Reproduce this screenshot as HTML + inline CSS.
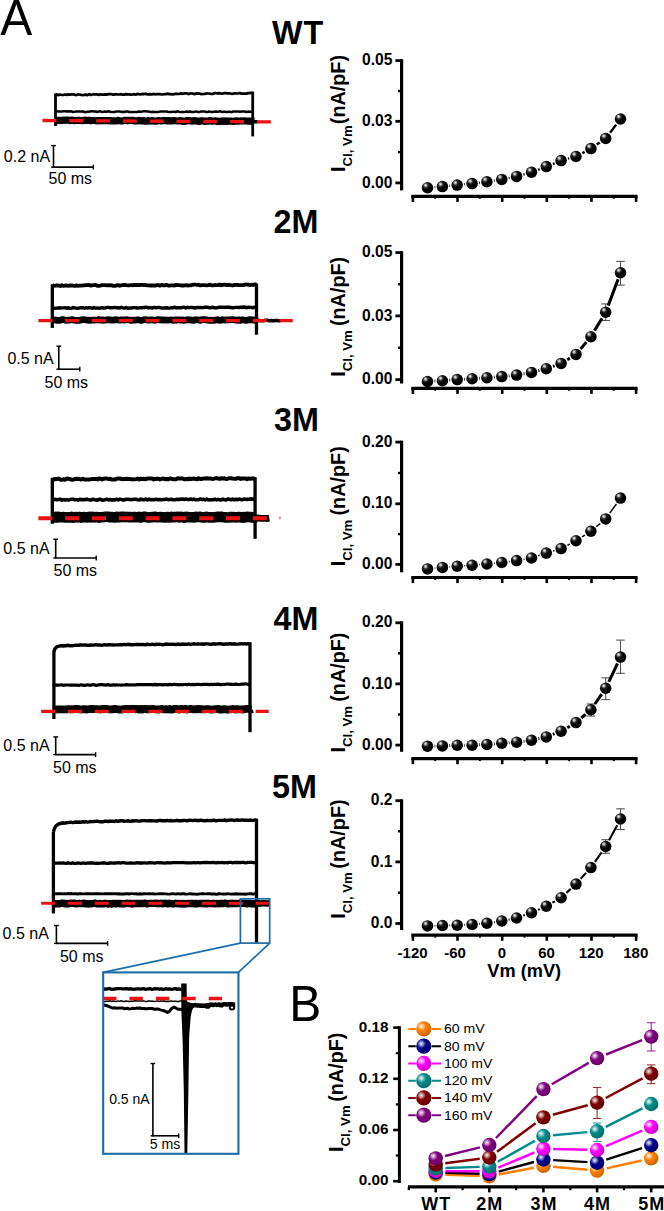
<!DOCTYPE html>
<html><head><meta charset="utf-8"><title>Figure</title>
<style>html,body{margin:0;padding:0;background:#fff}svg{display:block}text{font-family:'Liberation Sans', sans-serif;fill:#000;font-kerning:none}</style>
</head><body>
<svg width="664" height="1211" viewBox="0 0 664 1211">
<rect width="664" height="1211" fill="#fff"/>
<g id="traces">
<polyline points="55.5,94.8 57.1,94.6 58.7,95.1 60.3,94.5 61.9,95.0 63.5,94.8 65.1,94.5 66.7,94.9 68.3,94.4 69.9,94.8 71.5,94.4 73.1,94.4 74.7,94.7 76.3,95.1 77.9,94.4 79.5,94.5 81.2,94.9 82.8,95.2 84.4,94.8 86.0,94.6 87.6,95.2 89.2,94.2 90.8,95.0 92.4,94.5 94.0,94.3 95.6,94.3 97.2,94.4 98.8,94.9 100.4,94.3 102.0,94.7 103.6,94.7 105.2,94.4 106.8,94.6 108.4,94.1 110.0,94.1 111.6,94.2 113.2,94.7 114.8,94.4 116.4,94.3 118.0,94.5 119.6,94.4 121.2,94.2 122.8,94.7 124.4,94.6 126.0,94.1 127.6,94.4 129.2,94.4 130.9,94.7 132.5,94.5 134.1,94.1 135.7,94.7 137.3,93.9 138.9,94.2 140.5,94.5 142.1,93.9 143.7,94.2 145.3,93.7 146.9,94.3 148.5,94.4 150.1,94.2 151.7,94.5 153.3,93.9 154.9,94.3 156.5,94.2 158.1,94.1 159.7,94.0 161.3,94.4 162.9,94.5 164.5,94.0 166.1,94.2 167.7,93.5 169.3,94.2 170.9,94.1 172.5,94.4 174.1,94.2 175.7,93.7 177.3,93.8 179.0,94.0 180.6,93.4 182.2,93.8 183.8,93.5 185.4,93.4 187.0,93.4 188.6,94.1 190.2,93.4 191.8,93.5 193.4,93.6 195.0,94.1 196.6,93.3 198.2,93.6 199.8,93.7 201.4,94.1 203.0,94.0 204.6,94.0 206.2,93.4 207.8,93.5 209.4,93.5 211.0,94.0 212.6,94.0 214.2,93.2 215.8,93.2 217.4,93.3 219.0,93.2 220.6,93.5 222.2,93.6 223.8,93.2 225.4,93.0 227.0,93.4 228.7,93.3 230.3,93.5 231.9,93.8 233.5,93.6 235.1,93.4 236.7,93.5 238.3,93.5 239.9,92.9 241.5,93.7 243.1,93.6 244.7,93.6 246.3,93.6 247.9,93.1 249.5,93.1 251.1,92.8 252.7,93.3" fill="none" stroke="#000" stroke-width="2.70" stroke-linejoin="round" />
<polyline points="55.5,111.3 57.1,111.3 58.7,111.4 60.3,111.4 61.9,111.6 63.5,111.3 65.1,111.3 66.7,111.4 68.3,111.3 69.9,111.6 71.5,111.3 73.1,112.0 74.7,111.8 76.3,111.4 77.9,111.5 79.5,111.6 81.2,111.6 82.8,111.4 84.4,112.0 86.0,112.1 87.6,111.7 89.2,111.7 90.8,111.3 92.4,111.3 94.0,111.6 95.6,111.5 97.2,112.0 98.8,111.4 100.4,111.3 102.0,112.1 103.6,111.7 105.2,111.4 106.8,111.7 108.4,111.3 110.0,111.7 111.6,112.1 113.2,112.0 114.8,111.9 116.4,111.5 118.0,111.6 119.6,111.4 121.2,111.9 122.8,111.7 124.4,112.0 126.0,111.5 127.6,111.5 129.2,112.0 130.9,112.1 132.5,112.0 134.1,112.0 135.7,112.0 137.3,111.9 138.9,111.5 140.5,111.7 142.1,111.6 143.7,111.3 145.3,111.3 146.9,111.5 148.5,111.5 150.1,111.9 151.7,112.1 153.3,111.7 154.9,112.1 156.5,112.1 158.1,112.1 159.7,111.6 161.3,111.4 162.9,111.5 164.5,111.4 166.1,111.4 167.7,111.8 169.3,112.1 170.9,112.0 172.5,111.7 174.1,111.8 175.7,112.0 177.3,111.3 179.0,111.8 180.6,112.1 182.2,112.0 183.8,111.9 185.4,111.7 187.0,111.4 188.6,112.0 190.2,111.5 191.8,112.0 193.4,112.1 195.0,111.6 196.6,111.6 198.2,112.1 199.8,111.9 201.4,111.4 203.0,111.4 204.6,111.4 206.2,112.1 207.8,112.0 209.4,111.4 211.0,112.0 212.6,112.1 214.2,111.8 215.8,111.6 217.4,111.7 219.0,111.4 220.6,111.3 222.2,112.1 223.8,111.8 225.4,111.7 227.0,112.1 228.7,111.6 230.3,112.0 231.9,112.0 233.5,111.4 235.1,111.5 236.7,111.5 238.3,111.5 239.9,111.8 241.5,111.5 243.1,111.6 244.7,111.4 246.3,112.1 247.9,111.6 249.5,111.7 251.1,111.8 252.7,112.1" fill="none" stroke="#000" stroke-width="2.50" stroke-linejoin="round" />
<polyline points="55.5,120.2 57.1,120.6 58.7,120.3 60.3,120.3 61.9,120.4 63.5,120.0 65.1,120.3 66.7,120.1 68.3,120.0 69.9,120.6 71.5,120.1 73.1,120.4 74.7,120.6 76.3,120.5 77.9,120.3 79.5,120.4 81.1,120.5 82.7,120.7 84.3,120.1 85.9,120.5 87.5,120.3 89.2,120.3 90.8,120.7 92.4,120.5 94.0,120.5 95.6,120.7 97.2,120.8 98.8,120.5 100.4,120.6 102.0,120.5 103.6,120.6 105.2,120.7 106.8,120.5 108.4,120.6 110.0,120.6 111.6,120.9 113.2,120.7 114.8,120.9 116.4,121.0 118.0,120.4 119.6,120.7 121.2,121.0 122.8,120.9 124.4,120.4 126.0,120.4 127.6,120.6 129.2,120.3 130.8,120.5 132.4,120.3 134.0,120.8 135.6,120.9 137.2,121.0 138.8,120.4 140.4,120.9 142.0,120.9 143.6,120.5 145.2,121.1 146.8,121.1 148.4,120.5 150.0,121.1 151.6,120.7 153.2,120.8 154.8,121.2 156.5,121.1 158.1,120.5 159.7,120.8 161.3,120.8 162.9,120.7 164.5,120.6 166.1,120.7 167.7,121.0 169.3,120.5 170.9,120.9 172.5,120.8 174.1,120.5 175.7,120.8 177.3,121.0 178.9,120.9 180.5,120.6 182.1,121.3 183.7,121.2 185.3,121.3 186.9,120.6 188.5,120.8 190.1,120.6 191.7,121.2 193.3,120.8 194.9,120.7 196.5,120.9 198.1,121.3 199.7,121.3 201.3,120.8 202.9,120.8 204.5,121.4 206.1,121.1 207.7,121.2 209.3,120.7 210.9,120.7 212.5,121.2 214.1,121.0 215.7,120.8 217.3,121.5 218.9,121.2 220.5,121.4 222.2,120.8 223.8,121.4 225.4,120.8 227.0,121.5 228.6,121.1 230.2,121.1 231.8,121.2 233.4,121.5 235.0,121.0 236.6,120.9 238.2,121.2 239.8,121.0 241.4,120.9 243.0,121.0 244.6,120.9 246.2,121.0 247.8,121.1 249.4,121.1 251.0,121.5 252.6,121.1 254.2,121.3" fill="none" stroke="#000" stroke-width="7.20" stroke-linejoin="round" />
<polyline points="252.7,121.7 254.4,121.8 256.0,121.6 257.7,121.8" fill="none" stroke="#000" stroke-width="3.40" stroke-linejoin="round" />
<line x1="55.5" y1="93.4" x2="55.5" y2="126.0" stroke="#000" stroke-width="2.80" />
<line x1="252.7" y1="91.6" x2="252.7" y2="136.4" stroke="#000" stroke-width="2.80" />
<line x1="42.5" y1="120.5" x2="272.0" y2="121.9" stroke="#ea1212" stroke-width="3.30" stroke-dasharray="14 12.8"/>
<line x1="53.5" y1="145.6" x2="53.5" y2="167.7" stroke="#000" stroke-width="1.60" />
<line x1="53.5" y1="167.1" x2="93.3" y2="167.1" stroke="#000" stroke-width="1.60" />
<line x1="51.1" y1="145.6" x2="55.9" y2="145.6" stroke="#000" stroke-width="1.40" />
<line x1="51.1" y1="167.1" x2="53.5" y2="167.1" stroke="#000" stroke-width="1.40" />
<line x1="93.3" y1="164.7" x2="93.3" y2="169.5" stroke="#000" stroke-width="1.40" />
<text x="3.8" y="161.6" font-size="16.0" font-weight="normal" text-anchor="start" >0.2 nA</text>
<text x="48.5" y="183.5" font-size="16.0" font-weight="normal" text-anchor="start" >50 ms</text>
<polyline points="52.3,285.1 53.9,285.8 55.5,285.6 57.1,285.3 58.7,285.6 60.3,286.0 61.9,285.2 63.6,285.9 65.2,285.5 66.8,285.5 68.4,285.9 70.0,285.4 71.6,285.5 73.2,285.7 74.8,286.0 76.4,285.4 78.0,285.8 79.6,285.7 81.2,285.6 82.8,285.4 84.5,285.3 86.1,285.0 87.7,285.1 89.3,285.0 90.9,285.7 92.5,285.2 94.1,285.1 95.7,285.0 97.3,285.8 98.9,285.8 100.5,285.6 102.1,285.2 103.8,285.2 105.4,285.2 107.0,285.4 108.6,285.1 110.2,285.3 111.8,285.2 113.4,285.9 115.0,285.9 116.6,285.4 118.2,285.1 119.8,285.8 121.4,285.2 123.0,285.2 124.7,284.9 126.3,285.2 127.9,285.3 129.5,285.3 131.1,285.0 132.7,285.3 134.3,284.8 135.9,285.1 137.5,284.9 139.1,285.2 140.7,284.8 142.3,284.8 143.9,285.1 145.6,285.0 147.2,285.4 148.8,285.3 150.4,285.5 152.0,285.4 153.6,285.5 155.2,285.6 156.8,285.1 158.4,285.1 160.0,285.7 161.6,284.9 163.2,285.4 164.9,285.4 166.5,284.8 168.1,285.5 169.7,285.6 171.3,285.3 172.9,285.4 174.5,285.5 176.1,284.8 177.7,285.2 179.3,285.2 180.9,285.5 182.5,285.5 184.1,285.5 185.8,285.2 187.4,285.5 189.0,285.3 190.6,285.3 192.2,284.9 193.8,284.6 195.4,284.7 197.0,285.0 198.6,284.7 200.2,285.4 201.8,285.1 203.4,285.2 205.0,285.2 206.7,285.3 208.3,285.1 209.9,284.6 211.5,285.4 213.1,285.3 214.7,285.0 216.3,285.1 217.9,285.2 219.5,284.6 221.1,285.3 222.7,284.8 224.3,284.6 226.0,284.8 227.6,285.2 229.2,284.7 230.8,285.2 232.4,285.5 234.0,285.0 235.6,284.9 237.2,284.9 238.8,285.1 240.4,285.2 242.0,285.1 243.6,285.1 245.2,284.5 246.9,284.6 248.5,284.7 250.1,285.2 251.7,284.7 253.3,285.0 254.9,284.4 256.5,284.5" fill="none" stroke="#000" stroke-width="3.80" stroke-linejoin="round" />
<polyline points="52.3,307.8 53.9,308.2 55.5,308.2 57.1,308.1 58.7,307.8 60.3,308.0 61.9,307.9 63.6,307.9 65.2,307.6 66.8,308.3 68.4,307.7 70.0,308.4 71.6,308.3 73.2,307.5 74.8,307.9 76.4,308.2 78.0,308.3 79.6,307.9 81.2,307.7 82.8,307.6 84.5,308.3 86.1,307.6 87.7,308.0 89.3,307.6 90.9,307.9 92.5,308.3 94.1,307.5 95.7,308.2 97.3,307.9 98.9,308.2 100.5,308.0 102.1,307.6 103.8,308.2 105.4,307.8 107.0,307.4 108.6,307.4 110.2,307.8 111.8,307.8 113.4,307.6 115.0,307.5 116.6,307.7 118.2,307.6 119.8,308.1 121.4,307.3 123.0,308.0 124.7,308.1 126.3,307.4 127.9,308.2 129.5,308.0 131.1,308.1 132.7,307.6 134.3,307.6 135.9,307.7 137.5,308.2 139.1,307.8 140.7,307.6 142.3,307.7 143.9,307.5 145.6,307.3 147.2,307.4 148.8,308.0 150.4,307.5 152.0,308.1 153.6,307.5 155.2,307.5 156.8,307.7 158.4,307.4 160.0,307.6 161.6,308.1 163.2,308.0 164.9,308.0 166.5,307.8 168.1,308.0 169.7,308.1 171.3,307.7 172.9,307.8 174.5,307.2 176.1,307.8 177.7,307.6 179.3,307.9 180.9,307.8 182.5,307.4 184.1,307.2 185.8,308.0 187.4,307.3 189.0,307.6 190.6,307.5 192.2,307.4 193.8,307.8 195.4,308.0 197.0,307.4 198.6,307.7 200.2,307.4 201.8,307.6 203.4,307.5 205.0,307.3 206.7,307.2 208.3,307.3 209.9,307.9 211.5,307.5 213.1,307.3 214.7,307.9 216.3,308.0 217.9,307.5 219.5,307.2 221.1,307.2 222.7,307.1 224.3,307.4 226.0,307.1 227.6,307.3 229.2,307.3 230.8,307.5 232.4,307.8 234.0,307.7 235.6,307.4 237.2,307.4 238.8,307.5 240.4,307.3 242.0,307.3 243.6,307.0 245.2,307.2 246.9,307.8 248.5,307.1 250.1,307.4 251.7,307.5 253.3,307.7 254.9,307.1 256.5,307.2" fill="none" stroke="#000" stroke-width="3.40" stroke-linejoin="round" />
<polyline points="52.3,319.8 53.9,319.9 55.5,320.0 57.1,320.4 58.7,320.3 60.3,320.3 61.9,319.6 63.5,319.6 65.2,320.2 66.8,320.3 68.4,320.0 70.0,320.1 71.6,319.6 73.2,319.9 74.8,320.3 76.4,320.3 78.0,320.3 79.6,320.4 81.2,319.8 82.8,319.7 84.4,319.7 86.0,320.0 87.7,320.1 89.3,320.4 90.9,320.2 92.5,320.1 94.1,320.2 95.7,320.0 97.3,320.0 98.9,319.6 100.5,320.2 102.1,319.8 103.7,320.3 105.3,320.1 106.9,319.8 108.5,319.7 110.2,319.8 111.8,320.1 113.4,320.2 115.0,319.7 116.6,319.7 118.2,320.0 119.8,320.1 121.4,319.9 123.0,319.8 124.6,320.1 126.2,319.6 127.8,319.8 129.4,320.0 131.0,320.4 132.7,320.1 134.3,320.3 135.9,320.0 137.5,319.8 139.1,319.8 140.7,320.4 142.3,320.2 143.9,319.8 145.5,319.6 147.1,320.0 148.7,320.1 150.3,319.9 151.9,319.8 153.5,320.1 155.1,320.3 156.8,319.8 158.4,319.6 160.0,319.9 161.6,319.9 163.2,320.1 164.8,319.8 166.4,320.2 168.0,320.2 169.6,320.0 171.2,319.8 172.8,320.4 174.4,319.8 176.0,320.3 177.6,319.8 179.3,319.8 180.9,320.2 182.5,319.8 184.1,320.4 185.7,320.0 187.3,319.7 188.9,319.8 190.5,319.9 192.1,320.1 193.7,320.4 195.3,319.7 196.9,319.9 198.5,319.8 200.1,320.4 201.8,319.7 203.4,319.6 205.0,319.6 206.6,319.9 208.2,320.3 209.8,320.3 211.4,320.2 213.0,320.4 214.6,320.3 216.2,319.9 217.8,319.7 219.4,320.3 221.0,320.2 222.6,319.6 224.3,320.1 225.9,319.9 227.5,319.9 229.1,319.9 230.7,319.7 232.3,319.6 233.9,319.8 235.5,319.9 237.1,320.4 238.7,319.7 240.3,320.4 241.9,319.8 243.5,319.9 245.1,320.3 246.8,320.3 248.4,319.9 250.0,319.6 251.6,320.0 253.2,319.9 254.8,320.3 256.4,319.8 258.0,319.9" fill="none" stroke="#000" stroke-width="6.70" stroke-linejoin="round" />
<polyline points="256.5,320.8 258.1,320.3 259.7,320.5 261.3,320.8 262.9,320.8 264.5,320.3 266.1,320.3 267.7,320.3 269.3,320.9 270.9,320.5 272.5,320.7 274.1,320.8 275.7,320.5 277.3,320.5 278.9,320.9 280.5,320.7" fill="none" stroke="#000" stroke-width="3.40" stroke-linejoin="round" />
<line x1="52.3" y1="284.2" x2="52.3" y2="327.9" stroke="#000" stroke-width="3.30" />
<line x1="256.5" y1="283.5" x2="256.5" y2="334.7" stroke="#000" stroke-width="3.30" />
<line x1="38.4" y1="320.6" x2="292.8" y2="320.6" stroke="#ea1212" stroke-width="3.40" stroke-dasharray="14 12.8"/>
<line x1="58.8" y1="346.2" x2="58.8" y2="369.8" stroke="#000" stroke-width="1.60" />
<line x1="58.8" y1="369.2" x2="79.8" y2="369.2" stroke="#000" stroke-width="1.60" />
<line x1="56.4" y1="346.2" x2="61.2" y2="346.2" stroke="#000" stroke-width="1.40" />
<line x1="56.4" y1="369.2" x2="58.8" y2="369.2" stroke="#000" stroke-width="1.40" />
<line x1="79.8" y1="366.8" x2="79.8" y2="371.6" stroke="#000" stroke-width="1.40" />
<text x="7.4" y="363.6" font-size="16.0" font-weight="normal" text-anchor="start" >0.5 nA</text>
<text x="44.5" y="388.0" font-size="16.0" font-weight="normal" text-anchor="start" >50 ms</text>
<polyline points="52.3,478.9 53.9,479.5 55.5,479.0 57.1,478.9 58.7,478.6 60.3,479.5 62.0,479.7 63.6,479.3 65.2,479.7 66.8,478.6 68.4,478.8 70.0,479.1 71.6,479.7 73.2,479.7 74.8,479.0 76.4,478.8 78.1,479.0 79.7,479.1 81.3,479.6 82.9,478.7 84.5,479.5 86.1,479.4 87.7,479.5 89.3,479.4 90.9,479.2 92.5,478.9 94.1,478.9 95.8,478.9 97.4,479.4 99.0,478.6 100.6,478.7 102.2,479.4 103.8,478.7 105.4,478.5 107.0,478.5 108.6,479.1 110.2,478.8 111.9,479.6 113.5,479.5 115.1,479.6 116.7,478.7 118.3,478.5 119.9,478.5 121.5,479.0 123.1,479.2 124.7,478.9 126.3,478.7 127.9,478.9 129.6,479.1 131.2,479.2 132.8,479.3 134.4,479.4 136.0,479.1 137.6,478.5 139.2,479.4 140.8,478.7 142.4,479.0 144.0,478.8 145.7,479.2 147.3,478.6 148.9,478.6 150.5,478.6 152.1,478.5 153.7,479.4 155.3,479.0 156.9,478.7 158.5,478.8 160.1,479.5 161.7,478.9 163.4,478.5 165.0,479.2 166.6,479.0 168.2,479.4 169.8,478.4 171.4,478.8 173.0,479.2 174.6,479.2 176.2,479.3 177.8,478.3 179.5,478.6 181.1,478.4 182.7,478.4 184.3,479.4 185.9,478.9 187.5,479.3 189.1,478.6 190.7,479.2 192.3,478.7 193.9,478.5 195.5,479.1 197.2,479.3 198.8,478.3 200.4,478.9 202.0,478.9 203.6,478.4 205.2,478.6 206.8,478.3 208.4,478.4 210.0,478.4 211.6,478.8 213.3,478.9 214.9,478.4 216.5,478.1 218.1,478.5 219.7,478.9 221.3,478.3 222.9,478.5 224.5,478.3 226.1,479.0 227.7,478.7 229.3,478.2 231.0,478.2 232.6,478.5 234.2,478.7 235.8,478.8 237.4,478.2 239.0,478.2 240.6,478.9 242.2,478.5 243.8,478.4 245.4,478.4 247.1,479.2 248.7,478.4 250.3,478.7 251.9,478.4 253.5,478.5 255.1,479.0" fill="none" stroke="#000" stroke-width="4.00" stroke-linejoin="round" />
<polyline points="52.3,500.2 53.9,499.6 55.5,499.4 57.1,499.9 58.7,499.4 60.3,499.2 62.0,500.1 63.6,499.6 65.2,500.0 66.8,499.6 68.4,500.1 70.0,499.6 71.6,499.3 73.2,499.2 74.8,499.7 76.4,499.8 78.1,500.1 79.7,499.2 81.3,499.8 82.9,499.5 84.5,499.7 86.1,499.3 87.7,499.4 89.3,499.7 90.9,500.1 92.5,499.2 94.1,499.6 95.8,499.9 97.4,500.1 99.0,499.3 100.6,499.3 102.2,500.1 103.8,500.1 105.4,499.6 107.0,499.2 108.6,500.0 110.2,499.5 111.9,500.0 113.5,499.7 115.1,499.9 116.7,499.3 118.3,499.9 119.9,499.3 121.5,499.5 123.1,499.9 124.7,499.9 126.3,499.3 127.9,499.3 129.6,499.5 131.2,499.6 132.8,499.5 134.4,499.2 136.0,499.3 137.6,499.8 139.2,500.0 140.8,499.1 142.4,499.6 144.0,499.8 145.7,499.1 147.3,499.9 148.9,499.2 150.5,499.7 152.1,499.6 153.7,499.7 155.3,499.4 156.9,499.5 158.5,499.6 160.1,499.5 161.7,499.7 163.4,499.5 165.0,499.5 166.6,499.1 168.2,499.6 169.8,499.5 171.4,499.3 173.0,499.8 174.6,499.8 176.2,499.5 177.8,499.2 179.5,499.5 181.1,499.1 182.7,499.1 184.3,499.4 185.9,499.1 187.5,499.4 189.1,499.5 190.7,499.0 192.3,499.6 193.9,499.1 195.5,499.7 197.2,499.8 198.8,499.5 200.4,499.0 202.0,499.5 203.6,499.4 205.2,499.9 206.8,499.1 208.4,499.8 210.0,500.0 211.6,499.7 213.3,499.8 214.9,499.2 216.5,499.9 218.1,499.4 219.7,499.9 221.3,499.9 222.9,499.1 224.5,499.7 226.1,499.9 227.7,499.0 229.3,499.3 231.0,499.7 232.6,499.1 234.2,499.8 235.8,499.2 237.4,499.7 239.0,499.1 240.6,499.4 242.2,499.8 243.8,499.1 245.4,499.2 247.1,499.4 248.7,499.2 250.3,498.9 251.9,499.1 253.5,499.1 255.1,499.8" fill="none" stroke="#000" stroke-width="3.60" stroke-linejoin="round" />
<polyline points="52.3,517.3 53.9,517.5 55.5,516.9 57.1,517.4 58.7,516.9 60.3,517.2 62.0,517.3 63.6,517.1 65.2,517.5 66.8,517.2 68.4,517.3 70.0,517.5 71.6,516.9 73.2,517.6 74.8,517.3 76.4,517.1 78.0,517.4 79.6,517.0 81.3,517.6 82.9,517.3 84.5,517.1 86.1,517.4 87.7,517.2 89.3,516.9 90.9,517.4 92.5,516.8 94.1,517.5 95.7,517.0 97.3,517.3 99.0,517.6 100.6,517.3 102.2,517.3 103.8,517.1 105.4,516.8 107.0,516.8 108.6,516.9 110.2,517.3 111.8,517.1 113.4,517.2 115.0,517.5 116.6,516.9 118.3,517.0 119.9,517.3 121.5,516.8 123.1,516.8 124.7,517.1 126.3,516.9 127.9,517.1 129.5,517.0 131.1,517.3 132.7,517.3 134.3,517.0 136.0,517.3 137.6,517.2 139.2,516.9 140.8,517.5 142.4,517.0 144.0,516.9 145.6,516.9 147.2,517.3 148.8,517.5 150.4,517.4 152.0,517.1 153.6,517.0 155.3,516.8 156.9,517.3 158.5,517.2 160.1,517.1 161.7,517.3 163.3,517.2 164.9,517.5 166.5,517.4 168.1,517.0 169.7,517.5 171.3,516.8 172.9,517.2 174.6,517.1 176.2,517.0 177.8,516.8 179.4,517.4 181.0,516.8 182.6,517.2 184.2,517.6 185.8,516.9 187.4,517.0 189.0,517.3 190.6,517.2 192.3,517.3 193.9,517.5 195.5,516.9 197.1,517.0 198.7,517.0 200.3,516.8 201.9,517.5 203.5,517.4 205.1,517.4 206.7,516.8 208.3,517.5 209.9,517.4 211.6,517.2 213.2,517.4 214.8,517.2 216.4,517.0 218.0,516.9 219.6,517.0 221.2,516.8 222.8,517.1 224.4,517.4 226.0,517.4 227.6,517.5 229.3,517.4 230.9,517.0 232.5,517.2 234.1,517.1 235.7,517.4 237.3,517.2 238.9,517.0 240.5,517.3 242.1,517.6 243.7,517.0 245.3,517.5 246.9,516.8 248.6,517.0 250.2,517.0 251.8,517.4 253.4,517.6 255.0,517.4 256.6,517.1" fill="none" stroke="#000" stroke-width="10.60" stroke-linejoin="round" />
<polyline points="255.1,518.4 256.9,518.1 258.6,518.0 260.4,518.4 262.2,518.3 264.0,518.3 265.8,518.3 267.5,518.5 269.3,518.2" fill="none" stroke="#000" stroke-width="6.80" stroke-linejoin="round" />
<line x1="52.3" y1="477.8" x2="52.3" y2="523.8" stroke="#000" stroke-width="3.30" />
<line x1="255.1" y1="477.2" x2="255.1" y2="538.8" stroke="#000" stroke-width="3.30" />
<line x1="38.4" y1="518.2" x2="266.9" y2="518.2" stroke="#ea1212" stroke-width="3.90" stroke-dasharray="14 12.8"/>
<line x1="55.7" y1="539.2" x2="55.7" y2="558.6" stroke="#000" stroke-width="1.60" />
<line x1="55.7" y1="558.0" x2="96.2" y2="558.0" stroke="#000" stroke-width="1.60" />
<line x1="53.3" y1="539.2" x2="58.1" y2="539.2" stroke="#000" stroke-width="1.40" />
<line x1="53.3" y1="558.0" x2="55.7" y2="558.0" stroke="#000" stroke-width="1.40" />
<line x1="96.2" y1="555.6" x2="96.2" y2="560.4" stroke="#000" stroke-width="1.40" />
<text x="3.3" y="553.9" font-size="16.0" font-weight="normal" text-anchor="start" >0.5 nA</text>
<text x="53.5" y="575.6" font-size="16.0" font-weight="normal" text-anchor="start" >50 ms</text>
<polyline points="53.9,651.7 54.4,650.2 54.9,649.0 55.4,648.3 55.9,647.7 56.4,647.2 56.9,646.8 57.4,646.6 57.9,646.5 58.4,646.4 58.9,646.1 59.4,646.1 59.9,646.0 60.4,645.9 60.9,645.9 61.4,645.7 61.9,645.7 62.4,645.6 62.9,646.1 63.4,645.9 63.9,645.5 65.5,646.0 67.1,645.3 68.7,645.5 70.3,645.9 71.9,645.7 73.5,645.6 75.1,645.3 76.7,645.1 78.3,645.4 79.9,645.0 81.5,645.0 83.1,645.1 84.7,644.8 86.3,645.1 87.9,645.3 89.5,645.2 91.1,645.0 92.7,645.1 94.3,645.0 95.9,644.7 97.5,645.0 99.1,644.9 100.7,645.1 102.3,645.2 103.9,644.8 105.5,644.9 107.1,645.0 108.7,644.7 110.3,644.6 111.9,644.9 113.5,645.0 115.1,644.9 116.7,644.9 118.3,644.9 119.9,644.8 121.5,644.8 123.1,644.6 124.7,644.5 126.3,644.7 127.9,644.3 129.5,644.5 131.1,644.8 132.7,644.7 134.3,644.6 135.9,644.4 137.5,644.5 139.1,644.5 140.7,644.6 142.3,644.4 143.9,644.6 145.5,644.8 147.1,644.2 148.7,644.6 150.3,644.6 151.9,644.3 153.5,644.4 155.1,644.7 156.7,644.1 158.3,644.4 159.9,644.1 161.5,644.6 163.1,644.7 164.7,644.3 166.3,644.0 167.9,644.4 169.5,644.3 171.1,644.4 172.7,644.3 174.3,644.4 175.9,644.5 177.5,644.3 179.1,644.2 180.7,644.5 182.3,644.0 183.9,644.3 185.5,644.1 187.1,644.4 188.7,643.9 190.3,644.5 191.9,644.1 193.5,643.8 195.1,644.0 196.7,644.1 198.3,643.8 199.9,644.1 201.5,644.0 203.1,644.2 204.7,644.0 206.3,643.9 207.9,643.9 209.5,644.2 211.1,644.3 212.7,644.0 214.3,643.8 215.9,644.2 217.5,643.9 219.1,643.8 220.7,643.7 222.3,644.2 223.9,644.2 225.5,644.0 227.1,643.9 228.7,644.0 230.3,643.7 231.9,644.2 233.5,643.8 235.1,644.0 236.7,644.1 238.3,644.1 239.9,643.8 241.5,643.7 243.1,643.9 244.7,643.6 246.3,644.1 247.9,643.7 249.5,644.0 250.0,643.8" fill="none" stroke="#000" stroke-width="3.40" stroke-linejoin="round" />
<polyline points="53.9,685.1 55.5,685.1 57.1,685.0 58.7,685.1 60.3,685.0 61.9,684.9 63.5,685.3 65.2,685.0 66.8,685.0 68.4,685.0 70.0,685.1 71.6,685.1 73.2,685.2 74.8,685.2 76.4,685.0 78.0,685.3 79.6,685.3 81.2,684.8 82.8,685.2 84.4,685.3 86.0,685.2 87.7,684.8 89.3,685.2 90.9,685.1 92.5,684.7 94.1,684.7 95.7,685.3 97.3,685.1 98.9,684.8 100.5,684.7 102.1,684.7 103.7,684.8 105.3,685.1 106.9,684.8 108.6,684.7 110.2,685.2 111.8,685.1 113.4,684.7 115.0,685.1 116.6,684.9 118.2,685.0 119.8,685.0 121.4,685.1 123.0,685.0 124.6,685.0 126.2,684.6 127.8,684.9 129.4,684.8 131.1,685.0 132.7,684.8 134.3,685.0 135.9,684.8 137.5,684.6 139.1,684.6 140.7,684.5 142.3,684.7 143.9,684.5 145.5,684.7 147.1,684.5 148.7,684.7 150.3,684.7 151.9,684.7 153.6,684.9 155.2,684.4 156.8,684.9 158.4,684.6 160.0,684.7 161.6,684.7 163.2,684.8 164.8,684.6 166.4,684.6 168.0,684.9 169.6,684.4 171.2,684.7 172.8,684.7 174.5,684.3 176.1,684.6 177.7,684.7 179.3,684.8 180.9,684.5 182.5,684.8 184.1,684.5 185.7,684.5 187.3,684.8 188.9,684.2 190.5,684.6 192.1,684.6 193.7,684.4 195.3,684.7 197.0,684.4 198.6,684.4 200.2,684.5 201.8,684.6 203.4,684.3 205.0,684.4 206.6,684.4 208.2,684.4 209.8,684.6 211.4,684.3 213.0,684.6 214.6,684.3 216.2,684.4 217.9,684.2 219.5,684.4 221.1,684.6 222.7,684.4 224.3,684.5 225.9,684.2 227.5,684.2 229.1,684.2 230.7,684.4 232.3,684.4 233.9,684.5 235.5,684.0 237.1,684.4 238.7,684.5 240.4,684.3 242.0,684.0 243.6,684.1 245.2,683.9 246.8,684.0 248.4,684.5 250.0,684.3" fill="none" stroke="#000" stroke-width="3.20" stroke-linejoin="round" />
<polyline points="53.9,709.3 55.5,709.4 57.1,709.5 58.7,709.3 60.3,709.3 61.9,709.3 63.5,709.4 65.1,709.3 66.8,709.3 68.4,709.0 70.0,709.3 71.6,709.2 73.2,709.4 74.8,708.9 76.4,708.9 78.0,708.8 79.6,709.4 81.2,709.5 82.8,709.3 84.4,709.1 86.0,709.5 87.6,709.4 89.2,709.2 90.8,709.0 92.5,709.0 94.1,709.1 95.7,709.1 97.3,709.1 98.9,709.3 100.5,709.5 102.1,708.8 103.7,709.3 105.3,708.8 106.9,708.9 108.5,709.4 110.1,709.3 111.7,709.5 113.3,709.2 114.9,708.8 116.6,709.1 118.2,709.3 119.8,709.6 121.4,709.6 123.0,709.2 124.6,709.1 126.2,708.9 127.8,709.3 129.4,709.0 131.0,708.9 132.6,708.8 134.2,708.8 135.8,709.3 137.4,708.9 139.0,709.6 140.7,708.9 142.3,709.5 143.9,708.9 145.5,708.8 147.1,709.4 148.7,709.0 150.3,709.4 151.9,708.9 153.5,708.8 155.1,709.4 156.7,709.4 158.3,709.5 159.9,709.4 161.5,708.9 163.1,709.3 164.7,709.4 166.4,709.2 168.0,709.5 169.6,709.0 171.2,709.6 172.8,709.4 174.4,708.8 176.0,708.8 177.6,709.3 179.2,709.5 180.8,708.9 182.4,709.0 184.0,709.4 185.6,708.9 187.2,709.5 188.8,709.2 190.5,708.8 192.1,709.1 193.7,709.3 195.3,709.2 196.9,709.3 198.5,708.9 200.1,709.4 201.7,709.1 203.3,709.3 204.9,709.3 206.5,709.1 208.1,709.1 209.7,709.4 211.3,709.6 212.9,709.4 214.6,709.3 216.2,709.0 217.8,708.8 219.4,709.6 221.0,709.4 222.6,709.5 224.2,709.1 225.8,709.3 227.4,709.6 229.0,709.5 230.6,709.3 232.2,709.0 233.8,709.1 235.4,709.5 237.0,709.1 238.6,709.3 240.3,709.3 241.9,709.5 243.5,709.4 245.1,709.0 246.7,708.8 248.3,709.0 249.9,709.1 251.5,709.3" fill="none" stroke="#000" stroke-width="7.80" stroke-linejoin="round" />
<polyline points="250.0,711.6 251.7,711.6 253.3,711.1" fill="none" stroke="#000" stroke-width="3.40" stroke-linejoin="round" />
<line x1="53.9" y1="650.6" x2="53.9" y2="719.0" stroke="#000" stroke-width="3.30" />
<line x1="250.0" y1="642.2" x2="250.0" y2="732.2" stroke="#000" stroke-width="3.30" />
<line x1="41.2" y1="711.4" x2="268.7" y2="711.4" stroke="#ea1212" stroke-width="3.20" stroke-dasharray="14 12.8"/>
<line x1="55.7" y1="736.9" x2="55.7" y2="755.2" stroke="#000" stroke-width="1.60" />
<line x1="55.7" y1="754.6" x2="95.6" y2="754.6" stroke="#000" stroke-width="1.60" />
<line x1="53.3" y1="736.9" x2="58.1" y2="736.9" stroke="#000" stroke-width="1.40" />
<line x1="53.3" y1="754.6" x2="55.7" y2="754.6" stroke="#000" stroke-width="1.40" />
<line x1="95.6" y1="752.2" x2="95.6" y2="757.0" stroke="#000" stroke-width="1.40" />
<text x="3.3" y="750.7" font-size="16.0" font-weight="normal" text-anchor="start" >0.5 nA</text>
<text x="53.0" y="772.9" font-size="16.0" font-weight="normal" text-anchor="start" >50 ms</text>
<polyline points="53.4,831.8 53.9,830.2 54.4,828.8 54.9,827.8 55.4,826.8 55.9,826.1 56.4,825.5 56.9,825.2 57.4,824.8 57.9,824.4 58.4,824.2 58.9,823.9 59.4,823.8 59.9,823.6 60.4,823.6 60.9,823.2 61.4,823.1 61.9,822.9 62.4,823.3 62.9,823.1 63.4,822.8 65.0,823.2 66.6,822.6 68.2,822.6 69.8,822.3 71.4,822.3 73.0,822.6 74.6,822.2 76.2,822.0 77.8,822.2 79.4,822.0 81.0,822.3 82.6,821.7 84.2,822.2 85.8,821.5 87.4,822.1 89.0,821.9 90.6,821.5 92.2,821.6 93.8,821.5 95.4,821.4 97.0,821.3 98.6,821.4 100.2,821.8 101.8,821.8 103.4,821.7 105.0,821.1 106.6,821.2 108.2,821.6 109.8,821.0 111.4,821.4 113.0,821.1 114.6,821.5 116.2,820.8 117.8,821.4 119.4,821.0 121.0,820.8 122.6,820.7 124.2,821.3 125.8,821.1 127.4,820.8 129.0,821.0 130.6,821.3 132.2,820.8 133.8,821.0 135.4,820.7 137.0,820.7 138.6,821.1 140.2,821.0 141.8,820.7 143.4,820.6 145.0,820.6 146.6,820.9 148.2,820.8 149.8,820.7 151.4,820.6 153.0,820.9 154.6,820.9 156.2,821.0 157.8,820.8 159.4,820.5 161.0,820.4 162.6,820.9 164.2,820.6 165.8,820.8 167.4,820.4 169.0,820.9 170.6,820.5 172.2,820.9 173.8,820.9 175.4,820.6 177.0,820.3 178.6,820.9 180.2,820.6 181.8,820.9 183.4,820.4 185.0,820.4 186.6,820.8 188.2,820.5 189.8,820.3 191.4,820.4 193.0,820.6 194.6,820.2 196.2,820.5 197.8,820.5 199.4,820.5 201.0,820.2 202.6,820.6 204.2,820.7 205.8,820.7 207.4,820.3 209.0,820.6 210.6,820.4 212.2,820.6 213.8,820.1 215.4,820.7 217.0,820.7 218.6,820.4 220.2,820.4 221.8,820.4 223.4,820.4 225.0,820.0 226.6,820.7 228.2,820.2 229.8,820.1 231.4,820.0 233.0,820.1 234.6,820.5 236.2,820.0 237.8,820.0 239.4,820.4 241.0,820.1 242.6,819.9 244.2,820.3 245.8,820.3 247.4,820.3 249.0,820.4 250.6,820.0 252.2,820.5 253.8,820.4 255.4,819.9 256.5,820.2" fill="none" stroke="#000" stroke-width="3.40" stroke-linejoin="round" />
<polyline points="53.4,863.0 55.0,863.2 56.6,863.2 58.2,863.1 59.8,863.0 61.5,863.1 63.1,862.9 64.7,863.2 66.3,863.4 67.9,862.9 69.5,863.2 71.1,863.3 72.7,862.9 74.4,863.3 76.0,863.4 77.6,863.0 79.2,863.1 80.8,863.3 82.4,863.1 84.0,863.0 85.6,863.4 87.2,863.2 88.9,863.0 90.5,862.9 92.1,863.0 93.7,863.0 95.3,863.3 96.9,863.2 98.5,863.3 100.1,863.2 101.8,863.2 103.4,862.8 105.0,863.0 106.6,863.3 108.2,863.3 109.8,862.9 111.4,863.0 113.0,863.1 114.7,862.9 116.3,863.0 117.9,862.7 119.5,862.9 121.1,863.0 122.7,862.7 124.3,862.7 125.9,863.2 127.5,863.1 129.2,863.2 130.8,863.0 132.4,863.1 134.0,863.2 135.6,863.1 137.2,862.6 138.8,863.0 140.4,862.8 142.1,863.0 143.7,862.8 145.3,862.9 146.9,863.1 148.5,862.9 150.1,862.7 151.7,862.9 153.3,862.8 154.9,863.1 156.6,862.7 158.2,862.7 159.8,862.9 161.4,862.6 163.0,862.9 164.6,863.1 166.2,862.8 167.8,862.7 169.5,862.8 171.1,862.8 172.7,862.6 174.3,862.6 175.9,862.6 177.5,862.6 179.1,862.7 180.7,862.6 182.4,862.6 184.0,862.5 185.6,862.8 187.2,862.9 188.8,862.8 190.4,862.8 192.0,862.8 193.6,862.5 195.2,862.8 196.9,862.7 198.5,862.7 200.1,862.8 201.7,862.7 203.3,862.6 204.9,862.5 206.5,862.5 208.1,862.7 209.8,862.6 211.4,862.7 213.0,862.4 214.6,862.6 216.2,862.9 217.8,862.5 219.4,862.7 221.0,862.6 222.7,862.5 224.3,862.9 225.9,862.5 227.5,862.8 229.1,862.4 230.7,862.3 232.3,862.8 233.9,862.5 235.5,862.3 237.2,862.5 238.8,862.5 240.4,862.7 242.0,862.3 243.6,862.4 245.2,862.8 246.8,862.7 248.4,862.3 250.1,862.4 251.7,862.4 253.3,862.6 254.9,862.6 256.5,862.7" fill="none" stroke="#000" stroke-width="3.30" stroke-linejoin="round" />
<polyline points="53.4,893.9 55.0,893.7 56.6,893.8 58.2,893.8 59.8,893.8 61.5,893.7 63.1,893.9 64.7,893.8 66.3,893.9 67.9,893.5 69.5,893.9 71.1,893.5 72.7,893.9 74.4,893.8 76.0,893.7 77.6,894.0 79.2,893.8 80.8,893.7 82.4,893.9 84.0,893.9 85.6,893.8 87.2,893.7 88.9,893.7 90.5,893.7 92.1,893.9 93.7,893.7 95.3,893.7 96.9,893.8 98.5,893.7 100.1,893.7 101.8,893.9 103.4,893.9 105.0,893.8 106.6,893.8 108.2,893.6 109.8,893.7 111.4,893.6 113.0,893.8 114.7,893.8 116.3,893.6 117.9,894.0 119.5,893.7 121.1,894.0 122.7,894.0 124.3,894.0 125.9,893.7 127.5,893.8 129.2,894.0 130.8,893.6 132.4,893.6 134.0,893.9 135.6,893.8 137.2,894.0 138.8,894.0 140.4,893.8 142.1,894.1 143.7,893.8 145.3,893.8 146.9,893.9 148.5,893.8 150.1,893.8 151.7,893.9 153.3,893.8 154.9,894.1 156.6,893.9 158.2,893.9 159.8,893.7 161.4,893.8 163.0,893.8 164.6,893.9 166.2,893.9 167.8,894.1 169.5,894.1 171.1,893.9 172.7,893.8 174.3,893.9 175.9,894.1 177.5,893.8 179.1,893.9 180.7,894.0 182.4,893.7 184.0,893.8 185.6,894.1 187.2,894.1 188.8,893.9 190.4,893.7 192.0,894.1 193.6,894.0 195.2,894.1 196.9,894.2 198.5,894.1 200.1,893.9 201.7,893.7 203.3,893.8 204.9,893.9 206.5,893.9 208.1,893.8 209.8,893.8 211.4,894.0 213.0,894.0 214.6,893.9 216.2,894.2 217.8,894.0 219.4,893.7 221.0,893.9 222.7,894.1 224.3,893.9 225.9,894.1 227.5,893.7 229.1,893.9 230.7,894.1 232.3,894.0 233.9,894.1 235.5,893.8 237.2,894.0 238.8,894.0 240.4,893.9 242.0,894.1 243.6,894.0 245.2,894.2 246.8,894.0 248.4,893.9 250.1,893.8 251.7,893.8 253.3,894.1 254.9,893.8 256.5,893.8" fill="none" stroke="#000" stroke-width="2.90" stroke-linejoin="round" />
<polyline points="53.4,903.3 55.0,903.6 56.6,903.9 58.2,903.7 59.8,903.8 61.5,903.2 63.1,903.2 64.7,903.8 66.3,903.5 67.9,903.8 69.5,903.5 71.1,903.3 72.7,903.4 74.3,903.3 76.0,903.9 77.6,903.7 79.2,903.5 80.8,903.6 82.4,903.5 84.0,903.2 85.6,903.9 87.2,903.7 88.8,904.0 90.5,903.6 92.1,903.7 93.7,903.4 95.3,903.2 96.9,903.9 98.5,903.9 100.1,903.5 101.7,903.9 103.3,903.9 105.0,903.4 106.6,903.7 108.2,904.0 109.8,903.6 111.4,904.0 113.0,903.4 114.6,903.5 116.2,903.8 117.8,903.4 119.5,903.4 121.1,903.9 122.7,903.6 124.3,903.8 125.9,903.4 127.5,903.3 129.1,903.5 130.7,903.3 132.3,904.0 134.0,903.4 135.6,903.6 137.2,903.3 138.8,903.6 140.4,903.5 142.0,903.5 143.6,903.3 145.2,903.3 146.8,903.9 148.5,903.5 150.1,903.4 151.7,903.4 153.3,903.4 154.9,903.4 156.5,903.2 158.1,903.7 159.7,903.5 161.3,903.3 162.9,903.8 164.6,903.3 166.2,903.4 167.8,903.9 169.4,903.3 171.0,903.6 172.6,903.9 174.2,903.8 175.8,903.3 177.4,903.5 179.1,903.8 180.7,903.5 182.3,904.0 183.9,903.4 185.5,904.0 187.1,903.6 188.7,903.4 190.3,903.6 191.9,903.3 193.6,903.8 195.2,903.4 196.8,903.9 198.4,903.7 200.0,903.5 201.6,903.4 203.2,903.7 204.8,903.4 206.4,903.9 208.1,903.3 209.7,903.6 211.3,903.6 212.9,903.4 214.5,903.8 216.1,903.5 217.7,903.7 219.3,903.7 220.9,903.4 222.6,903.5 224.2,903.3 225.8,903.3 227.4,903.9 229.0,903.5 230.6,903.7 232.2,903.3 233.8,903.6 235.4,903.5 237.1,903.6 238.7,903.4 240.3,903.3 241.9,903.4 243.5,903.4 245.1,903.3 246.7,903.8 248.3,903.4 249.9,903.5 251.6,903.9 253.2,903.8 254.8,903.9 256.4,903.9 258.0,903.3" fill="none" stroke="#000" stroke-width="7.40" stroke-linejoin="round" />
<polyline points="256.5,903.2 258.1,903.0 259.8,903.4 261.4,903.4 263.0,903.2 264.6,903.2 266.2,903.4 267.9,903.4 269.5,903.1" fill="none" stroke="#000" stroke-width="6.50" stroke-linejoin="round" />
<line x1="53.4" y1="831.6" x2="53.4" y2="913.5" stroke="#000" stroke-width="3.30" />
<line x1="256.5" y1="818.8" x2="256.5" y2="942.8" stroke="#000" stroke-width="3.30" />
<line x1="41.2" y1="903.3" x2="268.7" y2="903.3" stroke="#ea1212" stroke-width="3.00" stroke-dasharray="14 12.8"/>
<line x1="56.4" y1="925.5" x2="56.4" y2="944.0" stroke="#000" stroke-width="1.60" />
<line x1="56.4" y1="943.4" x2="107.6" y2="943.4" stroke="#000" stroke-width="1.60" />
<line x1="54.0" y1="925.5" x2="58.8" y2="925.5" stroke="#000" stroke-width="1.40" />
<line x1="54.0" y1="943.4" x2="56.4" y2="943.4" stroke="#000" stroke-width="1.40" />
<line x1="107.6" y1="941.0" x2="107.6" y2="945.8" stroke="#000" stroke-width="1.40" />
<text x="2.6" y="939.3" font-size="16.0" font-weight="normal" text-anchor="start" >0.5 nA</text>
<text x="59.9" y="961.5" font-size="16.0" font-weight="normal" text-anchor="start" >50 ms</text>
<rect x="279.3" y="516.6" width="1.3" height="2.6" fill="#e8546a"/>
</g>
<text x="271.9" y="44.0" font-size="32.3" font-weight="bold" text-anchor="start" letter-spacing="1.2">WT</text>
<text x="273.5" y="232.5" font-size="32.3" font-weight="bold" text-anchor="start" >2M</text>
<text x="274.0" y="431.2" font-size="32.3" font-weight="bold" text-anchor="start" >3M</text>
<text x="273.5" y="629.5" font-size="32.3" font-weight="bold" text-anchor="start" >4M</text>
<text x="272.0" y="798.4" font-size="32.3" font-weight="bold" text-anchor="start" >5M</text>
<text transform="translate(0.2,34.6) scale(1,1.05)" font-size="48">A</text>
<text transform="translate(289.3,1020.7) scale(1,1.05)" font-size="48">B</text>
<polyline points="103.6,989.3 105.2,988.9 106.8,989.1 108.4,988.7 110.0,988.7 111.6,989.4 113.2,989.2 114.8,989.2 116.4,988.6 118.0,988.6 119.6,988.7 121.2,988.7 122.8,988.8 124.4,988.9 126.0,988.6 127.6,988.8 129.2,989.1 130.8,988.7 132.4,989.3 134.0,989.1 135.6,989.2 137.2,988.8 138.8,988.9 140.4,989.2 142.0,988.9 143.6,988.6 145.2,989.3 146.8,989.2 148.4,988.8 150.0,988.6 151.6,989.3 153.2,989.1 154.8,988.6 156.4,988.8 158.0,988.7 159.6,989.3 161.2,988.7 162.8,989.4 164.4,989.2 166.0,988.6 167.6,989.2 169.2,988.9 170.8,989.2 172.4,989.3 174.0,988.8 175.6,988.6 177.2,989.4 178.8,988.9 180.4,989.4 182.0,989.2" fill="none" stroke="#000" stroke-width="3.30" stroke-linejoin="round" />
<polyline points="103.6,1001.4 105.2,1001.5 106.8,1001.3 108.4,1001.2 110.0,1000.8 111.6,1001.4 113.2,1001.1 114.8,1001.2 116.4,1001.6 118.0,1000.9 119.6,1001.4 121.2,1000.8 122.8,1001.4 124.4,1001.5 126.0,1001.0 127.6,1001.2 129.2,1001.6 130.8,1001.3 132.4,1001.2 134.0,1001.0 135.6,1000.8 137.2,1001.1 138.8,1001.1 140.4,1000.9 142.0,1001.0 143.6,1000.9 145.2,1001.4 146.8,1001.4 148.4,1001.0 150.0,1001.0 151.6,1001.2 153.2,1001.2 154.8,1001.6 156.4,1001.1 158.0,1001.0 159.6,1001.5 161.2,1000.9 162.8,1001.3 164.4,1001.1 166.0,1001.5 167.6,1001.2 169.2,1001.4 170.8,1000.9 172.4,1001.3 174.0,1001.3 175.6,1001.2 177.2,1001.4 178.8,1001.5 180.4,1000.9 182.0,1001.0" fill="none" stroke="#000" stroke-width="1.50" stroke-linejoin="round" />
<polyline points="103.2,1004.7 105.1,1005.2 107.0,1005.7 108.4,1006.3 109.8,1006.8 111.2,1007.6 112.6,1008.0 114.1,1007.8 115.6,1008.0 117.0,1008.2 118.5,1008.1 120.0,1008.1 121.4,1008.0 122.9,1008.0 124.3,1008.8 125.7,1008.6 127.1,1008.2 128.6,1008.7 130.0,1008.9 131.4,1008.6 132.9,1008.2 134.3,1008.4 135.7,1008.3 137.1,1008.1 138.6,1008.3 140.0,1007.9 141.4,1008.6 142.9,1008.5 144.3,1008.5 145.7,1008.8 147.1,1008.7 148.6,1008.5 150.0,1008.6 151.3,1008.6 152.7,1008.6 154.0,1009.2 155.3,1009.3 156.7,1009.0 158.0,1009.0 159.7,1009.6 161.5,1010.1 163.2,1010.5 165.5,1011.4 167.5,1012.4 169.5,1011.4 171.5,1008.6 173.8,1007.3 176.0,1008.0 178.0,1009.2 180.0,1009.3 181.5,1009.4 183.0,1009.6" fill="none" stroke="#000" stroke-width="3.00" stroke-linejoin="round" />
<polyline points="189.0,1005.8 190.7,1005.5 192.3,1005.9 193.9,1005.3 195.6,1005.0 197.2,1005.5 198.9,1005.5 200.6,1005.7 202.2,1005.5 203.8,1005.7 205.5,1005.6 207.2,1005.1 208.8,1005.1 210.4,1004.7 212.1,1004.8 213.8,1005.0 215.4,1004.5 217.0,1005.0 218.7,1004.5 220.3,1004.7 222.0,1005.2 223.6,1004.2 225.3,1004.1 226.9,1004.5 228.6,1004.2 230.2,1004.7 231.9,1003.9 233.5,1004.7 235.2,1004.7" fill="none" stroke="#000" stroke-width="4.40" stroke-linejoin="round" />
<ellipse cx="207.5" cy="1007" rx="3" ry="1.8" fill="#000"/>
<ellipse cx="221" cy="1006" rx="2.6" ry="1.5" fill="#000"/>
<circle cx="232" cy="1007.2" r="2.3" fill="none" stroke="#000" stroke-width="1.9"/>
<path d="M181.2,983.6 L186.6,983.6 L186.8,1001 Q188.6,1003 193.6,1003.2 L193.6,1007.6 Q191.6,1010 190.6,1018 L189.2,1036 L188.4,1090 L187.3,1153 L184.5,1153 L183.8,1090 L182.6,1040 L181.4,1012 Z" fill="#000"/>
<line x1="103.1" y1="998.5" x2="222.4" y2="998.5" stroke="#ea1212" stroke-width="3.40" stroke-dasharray="13.4 13"/>
<line x1="152.9" y1="1063.5" x2="152.9" y2="1136.4" stroke="#000" stroke-width="1.60" />
<line x1="152.9" y1="1135.8" x2="178.7" y2="1135.8" stroke="#000" stroke-width="1.60" />
<line x1="150.6" y1="1063.5" x2="155.2" y2="1063.5" stroke="#000" stroke-width="1.40" />
<line x1="150.6" y1="1135.8" x2="152.9" y2="1135.8" stroke="#000" stroke-width="1.40" />
<line x1="178.7" y1="1133.6" x2="178.7" y2="1138.0" stroke="#000" stroke-width="1.40" />
<text x="109.2" y="1104.0" font-size="14.0" font-weight="normal" text-anchor="start" >0.5 nA</text>
<text x="149.8" y="1148.7" font-size="14.1" font-weight="normal" text-anchor="start" >5 ms</text>
<g id="inset" fill="none">
<rect x="240.4" y="898.8" width="29.3" height="44.3" stroke="#1e6ca6" stroke-width="1.7"/>
<line x1="240.4" y1="943.1" x2="103.2" y2="972.4" stroke="#1e6ca6" stroke-width="1.70" />
<line x1="269.7" y1="943.1" x2="238.4" y2="972.4" stroke="#1e6ca6" stroke-width="1.70" />
<rect x="103.15" y="972.4" width="135.3" height="181.4" stroke="#1e6ca6" stroke-width="2.1"/>
</g>
<defs>
<radialGradient id="sb" cx="0.36" cy="0.32" r="0.62" fx="0.33" fy="0.28">
<stop offset="0" stop-color="#f6f6f6"/><stop offset="0.14" stop-color="#b4b4b4"/><stop offset="0.34" stop-color="#2a2a2a"/><stop offset="0.6" stop-color="#000"/><stop offset="1" stop-color="#000"/>
</radialGradient>
<radialGradient id="so" cx="0.36" cy="0.35" r="0.7" fx="0.33" fy="0.33"><stop offset="0" stop-color="rgb(255,248,242)"/><stop offset="0.16" stop-color="rgb(255,206,158)"/><stop offset="0.42" stop-color="rgb(255,128,0)"/><stop offset="1" stop-color="rgb(198,99,0)"/></radialGradient>
<radialGradient id="sn" cx="0.36" cy="0.35" r="0.7" fx="0.33" fy="0.33"><stop offset="0" stop-color="rgb(242,242,249)"/><stop offset="0.16" stop-color="rgb(158,158,211)"/><stop offset="0.42" stop-color="rgb(0,0,140)"/><stop offset="1" stop-color="rgb(0,0,109)"/></radialGradient>
<radialGradient id="sm" cx="0.36" cy="0.35" r="0.7" fx="0.33" fy="0.33"><stop offset="0" stop-color="rgb(255,242,255)"/><stop offset="0.16" stop-color="rgb(255,158,255)"/><stop offset="0.42" stop-color="rgb(255,0,255)"/><stop offset="1" stop-color="rgb(198,0,198)"/></radialGradient>
<radialGradient id="st" cx="0.36" cy="0.35" r="0.7" fx="0.33" fy="0.33"><stop offset="0" stop-color="rgb(242,249,249)"/><stop offset="0.16" stop-color="rgb(158,210,210)"/><stop offset="0.42" stop-color="rgb(0,139,139)"/><stop offset="1" stop-color="rgb(0,108,108)"/></radialGradient>
<radialGradient id="sw" cx="0.36" cy="0.35" r="0.7" fx="0.33" fy="0.33"><stop offset="0" stop-color="rgb(248,242,242)"/><stop offset="0.16" stop-color="rgb(206,158,158)"/><stop offset="0.42" stop-color="rgb(128,0,0)"/><stop offset="1" stop-color="rgb(99,0,0)"/></radialGradient>
<radialGradient id="sp" cx="0.36" cy="0.35" r="0.7" fx="0.33" fy="0.33"><stop offset="0" stop-color="rgb(248,242,248)"/><stop offset="0.16" stop-color="rgb(206,158,206)"/><stop offset="0.42" stop-color="rgb(128,0,128)"/><stop offset="1" stop-color="rgb(99,0,99)"/></radialGradient>
</defs>
<g id="charts">
<line x1="401.6" y1="59.2" x2="401.6" y2="190.4" stroke="#000" stroke-width="3.20" />
<line x1="395.4" y1="60.6" x2="401.6" y2="60.6" stroke="#000" stroke-width="2.80" />
<text x="392.4" y="65.2" font-size="15.6" font-weight="bold" text-anchor="end" >0.05</text>
<line x1="395.4" y1="121.3" x2="401.6" y2="121.3" stroke="#000" stroke-width="2.80" />
<text x="392.4" y="125.9" font-size="15.6" font-weight="bold" text-anchor="end" >0.03</text>
<line x1="395.4" y1="182.9" x2="401.6" y2="182.9" stroke="#000" stroke-width="2.80" />
<text x="392.4" y="187.5" font-size="15.6" font-weight="bold" text-anchor="end" >0.00</text>
<line x1="398.0" y1="91.0" x2="401.6" y2="91.0" stroke="#000" stroke-width="2.40" />
<line x1="398.0" y1="152.1" x2="401.6" y2="152.1" stroke="#000" stroke-width="2.40" />
<line x1="411.3" y1="196.3" x2="637.6" y2="196.3" stroke="#000" stroke-width="3.20" />
<line x1="412.9" y1="196.3" x2="412.9" y2="201.9" stroke="#000" stroke-width="2.60" />
<line x1="435.2" y1="196.3" x2="435.2" y2="198.8" stroke="#000" stroke-width="1.90" />
<line x1="457.5" y1="196.3" x2="457.5" y2="201.9" stroke="#000" stroke-width="2.60" />
<line x1="479.9" y1="196.3" x2="479.9" y2="198.8" stroke="#000" stroke-width="1.90" />
<line x1="502.2" y1="196.3" x2="502.2" y2="201.9" stroke="#000" stroke-width="2.60" />
<line x1="524.5" y1="196.3" x2="524.5" y2="198.8" stroke="#000" stroke-width="1.90" />
<line x1="546.8" y1="196.3" x2="546.8" y2="201.9" stroke="#000" stroke-width="2.60" />
<line x1="569.1" y1="196.3" x2="569.1" y2="198.8" stroke="#000" stroke-width="1.90" />
<line x1="591.5" y1="196.3" x2="591.5" y2="201.9" stroke="#000" stroke-width="2.60" />
<line x1="613.8" y1="196.3" x2="613.8" y2="198.8" stroke="#000" stroke-width="1.90" />
<line x1="636.1" y1="196.3" x2="636.1" y2="201.9" stroke="#000" stroke-width="2.60" />
<line x1="434.6" y1="187.2" x2="435.3" y2="187.1" stroke="#000" stroke-width="2.40" />
<line x1="449.4" y1="185.9" x2="450.1" y2="185.8" stroke="#000" stroke-width="2.40" />
<line x1="464.3" y1="184.4" x2="465.0" y2="184.3" stroke="#000" stroke-width="2.40" />
<line x1="479.1" y1="182.7" x2="479.9" y2="182.6" stroke="#000" stroke-width="2.40" />
<line x1="493.9" y1="180.6" x2="494.7" y2="180.5" stroke="#000" stroke-width="2.40" />
<line x1="508.7" y1="178.0" x2="509.6" y2="177.8" stroke="#000" stroke-width="2.40" />
<line x1="523.4" y1="174.5" x2="524.6" y2="174.2" stroke="#000" stroke-width="2.40" />
<line x1="538.1" y1="169.8" x2="539.7" y2="169.1" stroke="#000" stroke-width="2.40" />
<line x1="552.9" y1="163.9" x2="554.6" y2="163.3" stroke="#000" stroke-width="2.40" />
<line x1="568.0" y1="158.7" x2="569.2" y2="158.4" stroke="#000" stroke-width="2.40" />
<line x1="582.3" y1="153.2" x2="584.6" y2="151.9" stroke="#000" stroke-width="2.40" />
<line x1="596.7" y1="144.6" x2="599.8" y2="142.4" stroke="#000" stroke-width="2.40" />
<line x1="610.0" y1="132.8" x2="616.2" y2="124.6" stroke="#000" stroke-width="2.40" />
<circle cx="427.5" cy="187.7" r="5.75" fill="url(#sb)"/>
<circle cx="442.4" cy="186.6" r="5.75" fill="url(#sb)"/>
<circle cx="457.2" cy="185.1" r="5.75" fill="url(#sb)"/>
<circle cx="472.1" cy="183.6" r="5.75" fill="url(#sb)"/>
<circle cx="486.9" cy="181.7" r="5.75" fill="url(#sb)"/>
<circle cx="501.8" cy="179.4" r="5.75" fill="url(#sb)"/>
<circle cx="516.6" cy="176.4" r="5.75" fill="url(#sb)"/>
<circle cx="531.5" cy="172.3" r="5.75" fill="url(#sb)"/>
<circle cx="546.3" cy="166.6" r="5.75" fill="url(#sb)"/>
<circle cx="561.1" cy="160.6" r="5.75" fill="url(#sb)"/>
<circle cx="576.0" cy="156.5" r="5.75" fill="url(#sb)"/>
<circle cx="590.9" cy="148.6" r="5.75" fill="url(#sb)"/>
<circle cx="605.7" cy="138.4" r="5.75" fill="url(#sb)"/>
<circle cx="620.5" cy="119.0" r="5.75" fill="url(#sb)"/>
<text transform="translate(345.3,171.9) rotate(-90)" font-size="19.8" font-weight="bold">I<tspan font-size="13.2" dy="6.8">Cl, Vm</tspan><tspan dy="-6.8" dx="1.2">(nA/pF)</tspan></text>
<line x1="401.6" y1="251.2" x2="401.6" y2="383.5" stroke="#000" stroke-width="3.20" />
<line x1="395.4" y1="252.6" x2="401.6" y2="252.6" stroke="#000" stroke-width="2.80" />
<text x="392.4" y="257.2" font-size="15.6" font-weight="bold" text-anchor="end" >0.05</text>
<line x1="395.4" y1="315.9" x2="401.6" y2="315.9" stroke="#000" stroke-width="2.80" />
<text x="392.4" y="320.5" font-size="15.6" font-weight="bold" text-anchor="end" >0.03</text>
<line x1="395.4" y1="379.6" x2="401.6" y2="379.6" stroke="#000" stroke-width="2.80" />
<text x="392.4" y="384.2" font-size="15.6" font-weight="bold" text-anchor="end" >0.00</text>
<line x1="398.0" y1="284.2" x2="401.6" y2="284.2" stroke="#000" stroke-width="2.40" />
<line x1="398.0" y1="347.8" x2="401.6" y2="347.8" stroke="#000" stroke-width="2.40" />
<line x1="411.3" y1="388.3" x2="637.6" y2="388.3" stroke="#000" stroke-width="3.20" />
<line x1="412.9" y1="388.3" x2="412.9" y2="393.9" stroke="#000" stroke-width="2.60" />
<line x1="435.2" y1="388.3" x2="435.2" y2="390.8" stroke="#000" stroke-width="1.90" />
<line x1="457.5" y1="388.3" x2="457.5" y2="393.9" stroke="#000" stroke-width="2.60" />
<line x1="479.9" y1="388.3" x2="479.9" y2="390.8" stroke="#000" stroke-width="1.90" />
<line x1="502.2" y1="388.3" x2="502.2" y2="393.9" stroke="#000" stroke-width="2.60" />
<line x1="524.5" y1="388.3" x2="524.5" y2="390.8" stroke="#000" stroke-width="1.90" />
<line x1="546.8" y1="388.3" x2="546.8" y2="393.9" stroke="#000" stroke-width="2.60" />
<line x1="569.1" y1="388.3" x2="569.1" y2="390.8" stroke="#000" stroke-width="1.90" />
<line x1="591.5" y1="388.3" x2="591.5" y2="393.9" stroke="#000" stroke-width="2.60" />
<line x1="613.8" y1="388.3" x2="613.8" y2="390.8" stroke="#000" stroke-width="1.90" />
<line x1="636.1" y1="388.3" x2="636.1" y2="393.9" stroke="#000" stroke-width="2.60" />
<line x1="620.5" y1="261.4" x2="620.5" y2="285.1" stroke="#555" stroke-width="1.10" />
<line x1="616.2" y1="261.4" x2="624.8" y2="261.4" stroke="#555" stroke-width="1.10" />
<line x1="616.2" y1="285.1" x2="624.8" y2="285.1" stroke="#555" stroke-width="1.10" />
<line x1="605.7" y1="303.9" x2="605.7" y2="320.5" stroke="#555" stroke-width="1.10" />
<line x1="601.4" y1="303.9" x2="610.0" y2="303.9" stroke="#555" stroke-width="1.10" />
<line x1="601.4" y1="320.5" x2="610.0" y2="320.5" stroke="#555" stroke-width="1.10" />
<line x1="434.6" y1="381.1" x2="435.3" y2="381.1" stroke="#000" stroke-width="3.00" />
<line x1="449.4" y1="380.2" x2="450.1" y2="380.1" stroke="#000" stroke-width="3.00" />
<line x1="464.3" y1="379.2" x2="465.0" y2="379.2" stroke="#000" stroke-width="3.00" />
<line x1="479.1" y1="378.3" x2="479.8" y2="378.2" stroke="#000" stroke-width="3.00" />
<line x1="494.0" y1="377.2" x2="494.7" y2="377.1" stroke="#000" stroke-width="3.00" />
<line x1="508.8" y1="375.9" x2="509.5" y2="375.8" stroke="#000" stroke-width="3.00" />
<line x1="523.6" y1="373.8" x2="524.5" y2="373.7" stroke="#000" stroke-width="3.00" />
<line x1="538.3" y1="370.7" x2="539.4" y2="370.4" stroke="#000" stroke-width="3.00" />
<line x1="553.0" y1="366.3" x2="554.5" y2="365.8" stroke="#000" stroke-width="3.00" />
<line x1="567.2" y1="359.7" x2="569.9" y2="358.1" stroke="#000" stroke-width="3.00" />
<line x1="580.6" y1="349.0" x2="586.3" y2="342.1" stroke="#000" stroke-width="3.00" />
<line x1="594.5" y1="330.6" x2="602.0" y2="318.3" stroke="#000" stroke-width="3.00" />
<line x1="608.2" y1="305.6" x2="618.1" y2="279.3" stroke="#000" stroke-width="3.00" />
<circle cx="427.5" cy="381.5" r="5.75" fill="url(#sb)"/>
<circle cx="442.4" cy="380.7" r="5.75" fill="url(#sb)"/>
<circle cx="457.2" cy="379.6" r="5.75" fill="url(#sb)"/>
<circle cx="472.1" cy="378.8" r="5.75" fill="url(#sb)"/>
<circle cx="486.9" cy="377.7" r="5.75" fill="url(#sb)"/>
<circle cx="501.8" cy="376.6" r="5.75" fill="url(#sb)"/>
<circle cx="516.6" cy="375.1" r="5.75" fill="url(#sb)"/>
<circle cx="531.5" cy="372.4" r="5.75" fill="url(#sb)"/>
<circle cx="546.3" cy="368.7" r="5.75" fill="url(#sb)"/>
<circle cx="561.1" cy="363.4" r="5.75" fill="url(#sb)"/>
<circle cx="576.0" cy="354.4" r="5.75" fill="url(#sb)"/>
<circle cx="590.9" cy="336.7" r="5.75" fill="url(#sb)"/>
<circle cx="605.7" cy="312.2" r="5.75" fill="url(#sb)"/>
<circle cx="620.5" cy="272.7" r="5.75" fill="url(#sb)"/>
<text transform="translate(345.3,376.8) rotate(-90)" font-size="19.8" font-weight="bold">I<tspan font-size="13.2" dy="6.8">Cl, Vm</tspan><tspan dy="-6.8" dx="4.2">(nA/pF)</tspan></text>
<line x1="401.6" y1="440.7" x2="401.6" y2="572.3" stroke="#000" stroke-width="3.20" />
<line x1="395.4" y1="442.1" x2="401.6" y2="442.1" stroke="#000" stroke-width="2.80" />
<text x="392.4" y="446.7" font-size="15.6" font-weight="bold" text-anchor="end" >0.20</text>
<line x1="395.4" y1="503.8" x2="401.6" y2="503.8" stroke="#000" stroke-width="2.80" />
<text x="392.4" y="508.4" font-size="15.6" font-weight="bold" text-anchor="end" >0.10</text>
<line x1="395.4" y1="564.4" x2="401.6" y2="564.4" stroke="#000" stroke-width="2.80" />
<text x="392.4" y="569.0" font-size="15.6" font-weight="bold" text-anchor="end" >0.00</text>
<line x1="398.0" y1="473.0" x2="401.6" y2="473.0" stroke="#000" stroke-width="2.40" />
<line x1="398.0" y1="534.1" x2="401.6" y2="534.1" stroke="#000" stroke-width="2.40" />
<line x1="411.3" y1="577.5" x2="637.6" y2="577.5" stroke="#000" stroke-width="3.20" />
<line x1="412.9" y1="577.5" x2="412.9" y2="583.1" stroke="#000" stroke-width="2.60" />
<line x1="435.2" y1="577.5" x2="435.2" y2="580.0" stroke="#000" stroke-width="1.90" />
<line x1="457.5" y1="577.5" x2="457.5" y2="583.1" stroke="#000" stroke-width="2.60" />
<line x1="479.9" y1="577.5" x2="479.9" y2="580.0" stroke="#000" stroke-width="1.90" />
<line x1="502.2" y1="577.5" x2="502.2" y2="583.1" stroke="#000" stroke-width="2.60" />
<line x1="524.5" y1="577.5" x2="524.5" y2="580.0" stroke="#000" stroke-width="1.90" />
<line x1="546.8" y1="577.5" x2="546.8" y2="583.1" stroke="#000" stroke-width="2.60" />
<line x1="569.1" y1="577.5" x2="569.1" y2="580.0" stroke="#000" stroke-width="1.90" />
<line x1="591.5" y1="577.5" x2="591.5" y2="583.1" stroke="#000" stroke-width="2.60" />
<line x1="613.8" y1="577.5" x2="613.8" y2="580.0" stroke="#000" stroke-width="1.90" />
<line x1="636.1" y1="577.5" x2="636.1" y2="583.1" stroke="#000" stroke-width="2.60" />
<line x1="434.6" y1="568.2" x2="435.3" y2="568.1" stroke="#000" stroke-width="1.50" />
<line x1="449.4" y1="566.9" x2="450.1" y2="566.8" stroke="#000" stroke-width="1.50" />
<line x1="464.3" y1="565.8" x2="465.0" y2="565.7" stroke="#000" stroke-width="1.50" />
<line x1="479.1" y1="564.6" x2="479.8" y2="564.6" stroke="#000" stroke-width="1.50" />
<line x1="494.0" y1="563.3" x2="494.7" y2="563.2" stroke="#000" stroke-width="1.50" />
<line x1="508.8" y1="561.6" x2="509.6" y2="561.5" stroke="#000" stroke-width="1.50" />
<line x1="523.6" y1="559.4" x2="524.5" y2="559.2" stroke="#000" stroke-width="1.50" />
<line x1="538.2" y1="555.8" x2="539.6" y2="555.3" stroke="#000" stroke-width="1.50" />
<line x1="553.1" y1="551.0" x2="554.4" y2="550.7" stroke="#000" stroke-width="1.50" />
<line x1="567.4" y1="545.3" x2="569.7" y2="544.0" stroke="#000" stroke-width="1.50" />
<line x1="582.0" y1="536.9" x2="584.9" y2="535.1" stroke="#000" stroke-width="1.50" />
<line x1="596.3" y1="526.7" x2="600.3" y2="523.5" stroke="#000" stroke-width="1.50" />
<line x1="609.8" y1="513.1" x2="616.4" y2="503.9" stroke="#000" stroke-width="1.50" />
<circle cx="427.5" cy="568.9" r="5.75" fill="url(#sb)"/>
<circle cx="442.4" cy="567.4" r="5.75" fill="url(#sb)"/>
<circle cx="457.2" cy="566.3" r="5.75" fill="url(#sb)"/>
<circle cx="472.1" cy="565.2" r="5.75" fill="url(#sb)"/>
<circle cx="486.9" cy="564.0" r="5.75" fill="url(#sb)"/>
<circle cx="501.8" cy="562.5" r="5.75" fill="url(#sb)"/>
<circle cx="516.6" cy="560.6" r="5.75" fill="url(#sb)"/>
<circle cx="531.5" cy="558.0" r="5.75" fill="url(#sb)"/>
<circle cx="546.3" cy="553.1" r="5.75" fill="url(#sb)"/>
<circle cx="561.1" cy="548.6" r="5.75" fill="url(#sb)"/>
<circle cx="576.0" cy="540.7" r="5.75" fill="url(#sb)"/>
<circle cx="590.9" cy="531.3" r="5.75" fill="url(#sb)"/>
<circle cx="605.7" cy="518.9" r="5.75" fill="url(#sb)"/>
<circle cx="620.5" cy="498.1" r="5.75" fill="url(#sb)"/>
<text transform="translate(345.3,566.2) rotate(-90)" font-size="19.8" font-weight="bold">I<tspan font-size="13.2" dy="6.8">Cl, Vm</tspan><tspan dy="-6.8" dx="4.2">(nA/pF)</tspan></text>
<line x1="401.6" y1="621.4" x2="401.6" y2="751.8" stroke="#000" stroke-width="3.20" />
<line x1="395.4" y1="622.8" x2="401.6" y2="622.8" stroke="#000" stroke-width="2.80" />
<text x="392.4" y="627.4" font-size="15.6" font-weight="bold" text-anchor="end" >0.20</text>
<line x1="395.4" y1="683.9" x2="401.6" y2="683.9" stroke="#000" stroke-width="2.80" />
<text x="392.4" y="688.5" font-size="15.6" font-weight="bold" text-anchor="end" >0.10</text>
<line x1="395.4" y1="745.1" x2="401.6" y2="745.1" stroke="#000" stroke-width="2.80" />
<text x="392.4" y="749.7" font-size="15.6" font-weight="bold" text-anchor="end" >0.00</text>
<line x1="398.0" y1="653.3" x2="401.6" y2="653.3" stroke="#000" stroke-width="2.40" />
<line x1="398.0" y1="714.5" x2="401.6" y2="714.5" stroke="#000" stroke-width="2.40" />
<line x1="411.3" y1="758.6" x2="637.6" y2="758.6" stroke="#000" stroke-width="3.20" />
<line x1="412.9" y1="758.6" x2="412.9" y2="764.2" stroke="#000" stroke-width="2.60" />
<line x1="435.2" y1="758.6" x2="435.2" y2="761.1" stroke="#000" stroke-width="1.90" />
<line x1="457.5" y1="758.6" x2="457.5" y2="764.2" stroke="#000" stroke-width="2.60" />
<line x1="479.9" y1="758.6" x2="479.9" y2="761.1" stroke="#000" stroke-width="1.90" />
<line x1="502.2" y1="758.6" x2="502.2" y2="764.2" stroke="#000" stroke-width="2.60" />
<line x1="524.5" y1="758.6" x2="524.5" y2="761.1" stroke="#000" stroke-width="1.90" />
<line x1="546.8" y1="758.6" x2="546.8" y2="764.2" stroke="#000" stroke-width="2.60" />
<line x1="569.1" y1="758.6" x2="569.1" y2="761.1" stroke="#000" stroke-width="1.90" />
<line x1="591.5" y1="758.6" x2="591.5" y2="764.2" stroke="#000" stroke-width="2.60" />
<line x1="613.8" y1="758.6" x2="613.8" y2="761.1" stroke="#000" stroke-width="1.90" />
<line x1="636.1" y1="758.6" x2="636.1" y2="764.2" stroke="#000" stroke-width="2.60" />
<line x1="620.5" y1="640.1" x2="620.5" y2="673.3" stroke="#555" stroke-width="1.10" />
<line x1="616.2" y1="640.1" x2="624.8" y2="640.1" stroke="#555" stroke-width="1.10" />
<line x1="616.2" y1="673.3" x2="624.8" y2="673.3" stroke="#555" stroke-width="1.10" />
<line x1="605.7" y1="677.8" x2="605.7" y2="699.6" stroke="#555" stroke-width="1.10" />
<line x1="601.4" y1="677.8" x2="610.0" y2="677.8" stroke="#555" stroke-width="1.10" />
<line x1="601.4" y1="699.6" x2="610.0" y2="699.6" stroke="#555" stroke-width="1.10" />
<line x1="590.9" y1="704.0" x2="590.9" y2="716.0" stroke="#555" stroke-width="1.10" />
<line x1="586.6" y1="704.0" x2="595.1" y2="704.0" stroke="#555" stroke-width="1.10" />
<line x1="586.6" y1="716.0" x2="595.1" y2="716.0" stroke="#555" stroke-width="1.10" />
<line x1="434.6" y1="746.1" x2="435.3" y2="746.1" stroke="#000" stroke-width="3.00" />
<line x1="449.4" y1="745.6" x2="450.1" y2="745.5" stroke="#000" stroke-width="3.00" />
<line x1="464.3" y1="745.2" x2="464.9" y2="745.2" stroke="#000" stroke-width="3.00" />
<line x1="479.1" y1="744.8" x2="479.8" y2="744.8" stroke="#000" stroke-width="3.00" />
<line x1="494.0" y1="743.9" x2="494.7" y2="743.8" stroke="#000" stroke-width="3.00" />
<line x1="508.8" y1="742.8" x2="509.5" y2="742.7" stroke="#000" stroke-width="3.00" />
<line x1="523.6" y1="741.3" x2="524.4" y2="741.2" stroke="#000" stroke-width="3.00" />
<line x1="538.4" y1="738.7" x2="539.4" y2="738.5" stroke="#000" stroke-width="3.00" />
<line x1="552.9" y1="734.4" x2="554.5" y2="733.7" stroke="#000" stroke-width="3.00" />
<line x1="567.3" y1="727.6" x2="569.9" y2="726.2" stroke="#000" stroke-width="3.00" />
<line x1="581.4" y1="718.0" x2="585.5" y2="714.4" stroke="#000" stroke-width="3.00" />
<line x1="594.9" y1="704.0" x2="601.7" y2="694.1" stroke="#000" stroke-width="3.00" />
<line x1="608.8" y1="681.9" x2="617.5" y2="663.5" stroke="#000" stroke-width="3.00" />
<circle cx="427.5" cy="746.3" r="5.75" fill="url(#sb)"/>
<circle cx="442.4" cy="745.9" r="5.75" fill="url(#sb)"/>
<circle cx="457.2" cy="745.2" r="5.75" fill="url(#sb)"/>
<circle cx="472.1" cy="745.2" r="5.75" fill="url(#sb)"/>
<circle cx="486.9" cy="744.4" r="5.75" fill="url(#sb)"/>
<circle cx="501.8" cy="743.3" r="5.75" fill="url(#sb)"/>
<circle cx="516.6" cy="742.2" r="5.75" fill="url(#sb)"/>
<circle cx="531.5" cy="740.3" r="5.75" fill="url(#sb)"/>
<circle cx="546.3" cy="736.9" r="5.75" fill="url(#sb)"/>
<circle cx="561.1" cy="731.2" r="5.75" fill="url(#sb)"/>
<circle cx="576.0" cy="722.6" r="5.75" fill="url(#sb)"/>
<circle cx="590.9" cy="709.8" r="5.75" fill="url(#sb)"/>
<circle cx="605.7" cy="688.3" r="5.75" fill="url(#sb)"/>
<circle cx="620.5" cy="657.1" r="5.75" fill="url(#sb)"/>
<text transform="translate(345.3,752.5) rotate(-90)" font-size="19.8" font-weight="bold">I<tspan font-size="13.2" dy="6.8">Cl, Vm</tspan><tspan dy="-6.8" dx="4.2">(nA/pF)</tspan></text>
<line x1="401.6" y1="799.3" x2="401.6" y2="930.0" stroke="#000" stroke-width="3.20" />
<line x1="395.4" y1="800.7" x2="401.6" y2="800.7" stroke="#000" stroke-width="2.80" />
<text x="392.4" y="805.3" font-size="15.6" font-weight="bold" text-anchor="end" >0.2</text>
<line x1="395.4" y1="861.9" x2="401.6" y2="861.9" stroke="#000" stroke-width="2.80" />
<text x="392.4" y="866.5" font-size="15.6" font-weight="bold" text-anchor="end" >0.1</text>
<line x1="395.4" y1="923.5" x2="401.6" y2="923.5" stroke="#000" stroke-width="2.80" />
<text x="392.4" y="928.1" font-size="15.6" font-weight="bold" text-anchor="end" >0.0</text>
<line x1="398.0" y1="831.3" x2="401.6" y2="831.3" stroke="#000" stroke-width="2.40" />
<line x1="398.0" y1="892.7" x2="401.6" y2="892.7" stroke="#000" stroke-width="2.40" />
<line x1="411.3" y1="935.2" x2="637.6" y2="935.2" stroke="#000" stroke-width="3.20" />
<line x1="412.9" y1="935.2" x2="412.9" y2="940.8" stroke="#000" stroke-width="2.60" />
<line x1="435.2" y1="935.2" x2="435.2" y2="937.7" stroke="#000" stroke-width="1.90" />
<line x1="457.5" y1="935.2" x2="457.5" y2="940.8" stroke="#000" stroke-width="2.60" />
<line x1="479.9" y1="935.2" x2="479.9" y2="937.7" stroke="#000" stroke-width="1.90" />
<line x1="502.2" y1="935.2" x2="502.2" y2="940.8" stroke="#000" stroke-width="2.60" />
<line x1="524.5" y1="935.2" x2="524.5" y2="937.7" stroke="#000" stroke-width="1.90" />
<line x1="546.8" y1="935.2" x2="546.8" y2="940.8" stroke="#000" stroke-width="2.60" />
<line x1="569.1" y1="935.2" x2="569.1" y2="937.7" stroke="#000" stroke-width="1.90" />
<line x1="591.5" y1="935.2" x2="591.5" y2="940.8" stroke="#000" stroke-width="2.60" />
<line x1="613.8" y1="935.2" x2="613.8" y2="937.7" stroke="#000" stroke-width="1.90" />
<line x1="636.1" y1="935.2" x2="636.1" y2="940.8" stroke="#000" stroke-width="2.60" />
<line x1="620.5" y1="808.8" x2="620.5" y2="829.5" stroke="#555" stroke-width="1.10" />
<line x1="616.2" y1="808.8" x2="624.8" y2="808.8" stroke="#555" stroke-width="1.10" />
<line x1="616.2" y1="829.5" x2="624.8" y2="829.5" stroke="#555" stroke-width="1.10" />
<line x1="605.7" y1="839.7" x2="605.7" y2="853.3" stroke="#555" stroke-width="1.10" />
<line x1="601.4" y1="839.7" x2="610.0" y2="839.7" stroke="#555" stroke-width="1.10" />
<line x1="601.4" y1="853.3" x2="610.0" y2="853.3" stroke="#555" stroke-width="1.10" />
<line x1="434.6" y1="925.7" x2="435.3" y2="925.7" stroke="#000" stroke-width="2.10" />
<line x1="449.4" y1="925.4" x2="450.1" y2="925.3" stroke="#000" stroke-width="2.10" />
<line x1="464.3" y1="924.8" x2="465.0" y2="924.8" stroke="#000" stroke-width="2.10" />
<line x1="479.1" y1="923.9" x2="479.8" y2="923.8" stroke="#000" stroke-width="2.10" />
<line x1="493.9" y1="922.2" x2="494.7" y2="922.1" stroke="#000" stroke-width="2.10" />
<line x1="508.7" y1="919.6" x2="509.6" y2="919.4" stroke="#000" stroke-width="2.10" />
<line x1="523.3" y1="915.6" x2="524.8" y2="915.1" stroke="#000" stroke-width="2.10" />
<line x1="538.0" y1="909.9" x2="539.8" y2="909.1" stroke="#000" stroke-width="2.10" />
<line x1="552.4" y1="902.7" x2="555.0" y2="901.3" stroke="#000" stroke-width="2.10" />
<line x1="566.4" y1="892.9" x2="570.8" y2="888.9" stroke="#000" stroke-width="2.10" />
<line x1="580.7" y1="878.8" x2="586.1" y2="872.9" stroke="#000" stroke-width="2.10" />
<line x1="594.9" y1="861.8" x2="601.6" y2="852.3" stroke="#000" stroke-width="2.10" />
<line x1="609.1" y1="840.3" x2="617.2" y2="825.2" stroke="#000" stroke-width="2.10" />
<circle cx="427.5" cy="925.9" r="5.75" fill="url(#sb)"/>
<circle cx="442.4" cy="925.5" r="5.75" fill="url(#sb)"/>
<circle cx="457.2" cy="925.2" r="5.75" fill="url(#sb)"/>
<circle cx="472.1" cy="924.4" r="5.75" fill="url(#sb)"/>
<circle cx="486.9" cy="923.3" r="5.75" fill="url(#sb)"/>
<circle cx="501.8" cy="921.0" r="5.75" fill="url(#sb)"/>
<circle cx="516.6" cy="918.0" r="5.75" fill="url(#sb)"/>
<circle cx="531.5" cy="912.7" r="5.75" fill="url(#sb)"/>
<circle cx="546.3" cy="906.3" r="5.75" fill="url(#sb)"/>
<circle cx="561.1" cy="897.7" r="5.75" fill="url(#sb)"/>
<circle cx="576.0" cy="884.1" r="5.75" fill="url(#sb)"/>
<circle cx="590.9" cy="867.6" r="5.75" fill="url(#sb)"/>
<circle cx="605.7" cy="846.5" r="5.75" fill="url(#sb)"/>
<circle cx="620.5" cy="819.0" r="5.75" fill="url(#sb)"/>
<text transform="translate(345.3,918.8) rotate(-90)" font-size="19.8" font-weight="bold">I<tspan font-size="13.2" dy="6.8">Cl, Vm</tspan><tspan dy="-6.8" dx="3.6">(nA/pF)</tspan></text>
<text x="412.6" y="958.0" font-size="15.0" font-weight="bold" text-anchor="middle" >-120</text>
<text x="455.1" y="958.0" font-size="15.0" font-weight="bold" text-anchor="middle" >-60</text>
<text x="501.9" y="958.0" font-size="15.0" font-weight="bold" text-anchor="middle" >0</text>
<text x="546.5" y="958.0" font-size="15.0" font-weight="bold" text-anchor="middle" >60</text>
<text x="591.2" y="958.0" font-size="15.0" font-weight="bold" text-anchor="middle" >120</text>
<text x="635.8" y="958.0" font-size="15.0" font-weight="bold" text-anchor="middle" >180</text>
<text x="524.2" y="976.6" font-size="18.2" font-weight="bold" text-anchor="middle" >Vm (mV)</text>
</g>
<g id="panelB">
<line x1="399.4" y1="1026.2" x2="399.4" y2="1183.0" stroke="#000" stroke-width="3.00" />
<line x1="393.2" y1="1027.6" x2="399.4" y2="1027.6" stroke="#000" stroke-width="2.60" />
<text x="388.6" y="1031.8" font-size="15.3" font-weight="bold" text-anchor="end" >0.18</text>
<line x1="393.2" y1="1078.8" x2="399.4" y2="1078.8" stroke="#000" stroke-width="2.60" />
<text x="388.6" y="1083.0" font-size="15.3" font-weight="bold" text-anchor="end" >0.12</text>
<line x1="393.2" y1="1130.0" x2="399.4" y2="1130.0" stroke="#000" stroke-width="2.60" />
<text x="388.6" y="1134.2" font-size="15.3" font-weight="bold" text-anchor="end" >0.06</text>
<line x1="393.2" y1="1181.2" x2="399.4" y2="1181.2" stroke="#000" stroke-width="2.60" />
<text x="388.6" y="1185.4" font-size="15.3" font-weight="bold" text-anchor="end" >0.00</text>
<line x1="395.8" y1="1053.2" x2="399.4" y2="1053.2" stroke="#000" stroke-width="2.20" />
<line x1="395.8" y1="1104.4" x2="399.4" y2="1104.4" stroke="#000" stroke-width="2.20" />
<line x1="395.8" y1="1155.6" x2="399.4" y2="1155.6" stroke="#000" stroke-width="2.20" />
<line x1="408.0" y1="1186.8" x2="664.0" y2="1186.8" stroke="#000" stroke-width="3.20" />
<line x1="435.7" y1="1186.8" x2="435.7" y2="1192.4" stroke="#000" stroke-width="2.60" />
<line x1="462.6" y1="1186.8" x2="462.6" y2="1190.2" stroke="#000" stroke-width="2.20" />
<line x1="489.3" y1="1186.8" x2="489.3" y2="1192.4" stroke="#000" stroke-width="2.60" />
<line x1="516.2" y1="1186.8" x2="516.2" y2="1190.2" stroke="#000" stroke-width="2.20" />
<line x1="543.4" y1="1186.8" x2="543.4" y2="1192.4" stroke="#000" stroke-width="2.60" />
<line x1="570.3" y1="1186.8" x2="570.3" y2="1190.2" stroke="#000" stroke-width="2.20" />
<line x1="597.1" y1="1186.8" x2="597.1" y2="1192.4" stroke="#000" stroke-width="2.60" />
<line x1="624.0" y1="1186.8" x2="624.0" y2="1190.2" stroke="#000" stroke-width="2.20" />
<line x1="651.2" y1="1186.8" x2="651.2" y2="1192.4" stroke="#000" stroke-width="2.60" />
<line x1="408.8" y1="1186.8" x2="408.8" y2="1190.2" stroke="#000" stroke-width="2.20" />
<text x="436.2" y="1209.5" font-size="18.0" font-weight="bold" text-anchor="middle" letter-spacing="1.0">WT</text>
<text x="489.8" y="1209.5" font-size="18.0" font-weight="bold" text-anchor="middle" letter-spacing="1.0">2M</text>
<text x="543.9" y="1209.5" font-size="18.0" font-weight="bold" text-anchor="middle" letter-spacing="1.0">3M</text>
<text x="597.6" y="1209.5" font-size="18.0" font-weight="bold" text-anchor="middle" letter-spacing="1.0">4M</text>
<text x="651.7" y="1209.5" font-size="18.0" font-weight="bold" text-anchor="middle" letter-spacing="1.0">5M</text>
<line x1="445.4" y1="1174.7" x2="479.6" y2="1175.9" stroke="rgb(255,128,0)" stroke-width="2.45" />
<line x1="498.8" y1="1174.5" x2="533.9" y2="1167.7" stroke="rgb(255,128,0)" stroke-width="2.45" />
<line x1="553.1" y1="1166.7" x2="587.4" y2="1169.8" stroke="rgb(255,128,0)" stroke-width="2.45" />
<line x1="606.6" y1="1168.4" x2="641.7" y2="1160.5" stroke="rgb(255,128,0)" stroke-width="2.45" />
<circle cx="435.7" cy="1174.3" r="7.2" fill="url(#so)"/>
<circle cx="489.3" cy="1176.3" r="7.2" fill="url(#so)"/>
<circle cx="543.4" cy="1165.9" r="7.2" fill="url(#so)"/>
<circle cx="597.1" cy="1170.6" r="7.2" fill="url(#so)"/>
<circle cx="651.2" cy="1158.3" r="7.2" fill="url(#so)"/>
<line x1="445.4" y1="1172.8" x2="479.6" y2="1173.8" stroke="#000" stroke-width="2.45" />
<line x1="498.7" y1="1171.6" x2="534.0" y2="1162.0" stroke="#000" stroke-width="2.45" />
<line x1="553.1" y1="1160.1" x2="587.4" y2="1162.1" stroke="#000" stroke-width="2.45" />
<line x1="606.3" y1="1159.7" x2="642.0" y2="1148.2" stroke="#000" stroke-width="2.45" />
<circle cx="435.7" cy="1172.5" r="7.2" fill="url(#sn)"/>
<circle cx="489.3" cy="1174.1" r="7.2" fill="url(#sn)"/>
<circle cx="543.4" cy="1159.5" r="7.2" fill="url(#sn)"/>
<circle cx="597.1" cy="1162.7" r="7.2" fill="url(#sn)"/>
<circle cx="651.2" cy="1145.2" r="7.2" fill="url(#sn)"/>
<line x1="445.4" y1="1171.1" x2="479.6" y2="1171.3" stroke="rgb(255,0,255)" stroke-width="2.45" />
<line x1="498.3" y1="1167.7" x2="534.4" y2="1152.5" stroke="rgb(255,0,255)" stroke-width="2.45" />
<line x1="553.1" y1="1149.0" x2="587.4" y2="1149.8" stroke="rgb(255,0,255)" stroke-width="2.45" />
<line x1="606.0" y1="1146.2" x2="642.3" y2="1130.7" stroke="rgb(255,0,255)" stroke-width="2.45" />
<circle cx="435.7" cy="1171.0" r="7.2" fill="url(#sm)"/>
<circle cx="489.3" cy="1171.4" r="7.2" fill="url(#sm)"/>
<circle cx="543.4" cy="1148.8" r="7.2" fill="url(#sm)"/>
<circle cx="597.1" cy="1150.0" r="7.2" fill="url(#sm)"/>
<circle cx="651.2" cy="1126.9" r="7.2" fill="url(#sm)"/>
<line x1="597.1" y1="1123.0" x2="597.1" y2="1141.5" stroke="rgb(0,139,139)" stroke-width="1.10" opacity="0.8"/>
<line x1="592.9" y1="1123.0" x2="601.3" y2="1123.0" stroke="rgb(0,139,139)" stroke-width="1.10" opacity="0.8"/>
<line x1="592.9" y1="1141.5" x2="601.3" y2="1141.5" stroke="rgb(0,139,139)" stroke-width="1.10" opacity="0.8"/>
<line x1="445.4" y1="1168.0" x2="479.6" y2="1166.9" stroke="rgb(0,139,139)" stroke-width="2.45" />
<line x1="497.7" y1="1161.8" x2="535.0" y2="1140.8" stroke="rgb(0,139,139)" stroke-width="2.45" />
<line x1="553.1" y1="1135.2" x2="587.4" y2="1132.1" stroke="rgb(0,139,139)" stroke-width="2.45" />
<line x1="605.8" y1="1126.9" x2="642.5" y2="1108.4" stroke="rgb(0,139,139)" stroke-width="2.45" />
<circle cx="435.7" cy="1168.3" r="7.2" fill="url(#st)"/>
<circle cx="489.3" cy="1166.6" r="7.2" fill="url(#st)"/>
<circle cx="543.4" cy="1136.0" r="7.2" fill="url(#st)"/>
<circle cx="597.1" cy="1131.3" r="7.2" fill="url(#st)"/>
<circle cx="651.2" cy="1104.0" r="7.2" fill="url(#st)"/>
<line x1="597.1" y1="1087.5" x2="597.1" y2="1118.5" stroke="rgb(128,0,0)" stroke-width="1.10" opacity="0.8"/>
<line x1="592.9" y1="1087.5" x2="601.3" y2="1087.5" stroke="rgb(128,0,0)" stroke-width="1.10" opacity="0.8"/>
<line x1="592.9" y1="1118.5" x2="601.3" y2="1118.5" stroke="rgb(128,0,0)" stroke-width="1.10" opacity="0.8"/>
<line x1="651.2" y1="1064.9" x2="651.2" y2="1083.6" stroke="rgb(128,0,0)" stroke-width="1.10" opacity="0.8"/>
<line x1="647.0" y1="1064.9" x2="655.4" y2="1064.9" stroke="rgb(128,0,0)" stroke-width="1.10" opacity="0.8"/>
<line x1="647.0" y1="1083.6" x2="655.4" y2="1083.6" stroke="rgb(128,0,0)" stroke-width="1.10" opacity="0.8"/>
<line x1="445.3" y1="1163.3" x2="479.7" y2="1158.8" stroke="rgb(128,0,0)" stroke-width="2.45" />
<line x1="497.1" y1="1151.7" x2="535.6" y2="1123.2" stroke="rgb(128,0,0)" stroke-width="2.45" />
<line x1="552.8" y1="1114.8" x2="587.7" y2="1105.2" stroke="rgb(128,0,0)" stroke-width="2.45" />
<line x1="605.7" y1="1098.0" x2="642.6" y2="1078.3" stroke="rgb(128,0,0)" stroke-width="2.45" />
<circle cx="435.7" cy="1164.6" r="7.2" fill="url(#sw)"/>
<circle cx="489.3" cy="1157.5" r="7.2" fill="url(#sw)"/>
<circle cx="543.4" cy="1117.4" r="7.2" fill="url(#sw)"/>
<circle cx="597.1" cy="1102.6" r="7.2" fill="url(#sw)"/>
<circle cx="651.2" cy="1073.7" r="7.2" fill="url(#sw)"/>
<line x1="651.2" y1="1022.7" x2="651.2" y2="1051.0" stroke="rgb(128,0,128)" stroke-width="1.10" opacity="0.8"/>
<line x1="647.0" y1="1022.7" x2="655.4" y2="1022.7" stroke="rgb(128,0,128)" stroke-width="1.10" opacity="0.8"/>
<line x1="647.0" y1="1051.0" x2="655.4" y2="1051.0" stroke="rgb(128,0,128)" stroke-width="1.10" opacity="0.8"/>
<line x1="445.1" y1="1156.0" x2="479.9" y2="1147.4" stroke="rgb(128,0,128)" stroke-width="2.45" />
<line x1="496.0" y1="1138.0" x2="536.7" y2="1096.1" stroke="rgb(128,0,128)" stroke-width="2.45" />
<line x1="551.8" y1="1084.3" x2="588.7" y2="1062.9" stroke="rgb(128,0,128)" stroke-width="2.45" />
<line x1="606.1" y1="1054.5" x2="642.2" y2="1040.2" stroke="rgb(128,0,128)" stroke-width="2.45" />
<circle cx="435.7" cy="1158.4" r="7.2" fill="url(#sp)"/>
<circle cx="489.3" cy="1145.0" r="7.2" fill="url(#sp)"/>
<circle cx="543.4" cy="1089.1" r="7.2" fill="url(#sp)"/>
<circle cx="597.1" cy="1058.1" r="7.2" fill="url(#sp)"/>
<circle cx="651.2" cy="1036.6" r="7.2" fill="url(#sp)"/>
<line x1="408.3" y1="1028.9" x2="441.1" y2="1028.9" stroke="rgb(255,128,0)" stroke-width="2.00" />
<circle cx="423.8" cy="1028.9" r="8.0" fill="#fff"/>
<circle cx="423.8" cy="1028.9" r="7.6" fill="url(#so)"/>
<text transform="translate(443.9,1033.3) scale(1.1,1)" font-size="12.8">60 mV</text>
<line x1="408.3" y1="1046.2" x2="441.1" y2="1046.2" stroke="#000" stroke-width="2.00" />
<circle cx="423.8" cy="1046.2" r="8.0" fill="#fff"/>
<circle cx="423.8" cy="1046.2" r="7.6" fill="url(#sn)"/>
<text transform="translate(443.9,1050.6) scale(1.1,1)" font-size="12.8">80 mV</text>
<line x1="408.3" y1="1063.4" x2="441.1" y2="1063.4" stroke="rgb(255,0,255)" stroke-width="2.00" />
<circle cx="423.8" cy="1063.4" r="8.0" fill="#fff"/>
<circle cx="423.8" cy="1063.4" r="7.6" fill="url(#sm)"/>
<text transform="translate(443.9,1067.8) scale(1.1,1)" font-size="12.8">100 mV</text>
<line x1="408.3" y1="1080.7" x2="441.1" y2="1080.7" stroke="rgb(0,139,139)" stroke-width="2.00" />
<circle cx="423.8" cy="1080.7" r="8.0" fill="#fff"/>
<circle cx="423.8" cy="1080.7" r="7.6" fill="url(#st)"/>
<text transform="translate(443.9,1085.1) scale(1.1,1)" font-size="12.8">120 mV</text>
<line x1="408.3" y1="1097.9" x2="441.1" y2="1097.9" stroke="rgb(128,0,0)" stroke-width="2.00" />
<circle cx="423.8" cy="1097.9" r="8.0" fill="#fff"/>
<circle cx="423.8" cy="1097.9" r="7.6" fill="url(#sw)"/>
<text transform="translate(443.9,1102.3) scale(1.1,1)" font-size="12.8">140 mV</text>
<line x1="408.3" y1="1115.2" x2="441.1" y2="1115.2" stroke="rgb(128,0,128)" stroke-width="2.00" />
<circle cx="423.8" cy="1115.2" r="8.0" fill="#fff"/>
<circle cx="423.8" cy="1115.2" r="7.6" fill="url(#sp)"/>
<text transform="translate(443.9,1119.6) scale(1.1,1)" font-size="12.8">160 mV</text>
<text transform="translate(343.0,1151.9) rotate(-90)" font-size="19.8" font-weight="bold">I<tspan font-size="13.2" dy="6.8">Cl, Vm</tspan><tspan dy="-6.8" dx="3.6">(nA/pF)</tspan></text>
</g>
</svg>
</body></html>
